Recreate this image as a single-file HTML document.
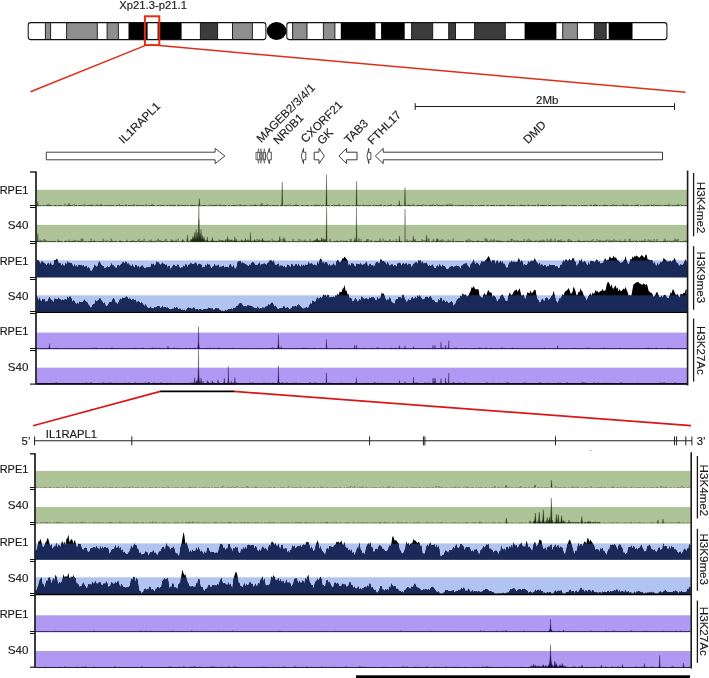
<!DOCTYPE html>
<html lang="en"><head><meta charset="utf-8"><title>Xp21.3-p21.1 chromatin tracks</title>
<style>
html,body{margin:0;padding:0;background:#fff}
body{width:709px;height:678px;overflow:hidden;font-family:"Liberation Sans",Arial,Helvetica,sans-serif}
svg{display:block}
svg text{font-family:"Liberation Sans",Arial,Helvetica,sans-serif;stroke:#1a1a1a;stroke-width:.14px}
</style></head><body>
<svg width="709" height="678" viewBox="0 0 709 678" font-family='Liberation Sans, Arial, Helvetica, sans-serif'>
<defs><clipPath id="cp"><rect x="28.2" y="22.6" width="237.7" height="17" rx="2.6" ry="2.6"/></clipPath><clipPath id="cq"><rect x="286.8" y="22.6" width="380.1" height="17" rx="2.6" ry="2.6"/></clipPath></defs>
<g clip-path="url(#cp)">
<rect x="45.4" y="22.6" width="5.2" height="17" fill="#8e8e8e"/>
<rect x="66.6" y="22.6" width="30.7" height="17" fill="#8e8e8e"/>
<rect x="107.1" y="22.6" width="11.3" height="17" fill="#8e8e8e"/>
<rect x="128.5" y="22.6" width="19.1" height="17" fill="#000"/>
<rect x="157.6" y="22.6" width="24" height="17" fill="#000"/>
<rect x="200.4" y="22.6" width="17.2" height="17" fill="#3c3c3c"/>
<rect x="232.5" y="22.6" width="19.9" height="17" fill="#8e8e8e"/>
</g><g clip-path="url(#cq)">
<rect x="292.6" y="22.6" width="14.4" height="17" fill="#8e8e8e"/>
<rect x="323.4" y="22.6" width="11.5" height="17" fill="#8e8e8e"/>
<rect x="340.8" y="22.6" width="34.7" height="17" fill="#000"/>
<rect x="381.1" y="22.6" width="23.6" height="17" fill="#000"/>
<rect x="411.6" y="22.6" width="21.1" height="17" fill="#3c3c3c"/>
<rect x="448.7" y="22.6" width="6.8" height="17" fill="#3c3c3c"/>
<rect x="474.6" y="22.6" width="30.7" height="17" fill="#3c3c3c"/>
<rect x="524.6" y="22.6" width="31.8" height="17" fill="#000"/>
<rect x="562.7" y="22.6" width="14.7" height="17" fill="#8e8e8e"/>
<rect x="594.4" y="22.6" width="11.8" height="17" fill="#3c3c3c"/>
<rect x="608.7" y="22.6" width="23.8" height="17" fill="#000"/>
</g>
<rect x="28.2" y="22.6" width="237.7" height="17" rx="2.6" ry="2.6" fill="none" stroke="#111" stroke-width="1.05"/>
<rect x="286.8" y="22.6" width="380.1" height="17" rx="2.6" ry="2.6" fill="none" stroke="#111" stroke-width="1.05"/>
<path d="M45.4 22.6V39.6M50.6 22.6V39.6" stroke="#111" stroke-width=".9" fill="none"/>
<path d="M66.6 22.6V39.6M97.3 22.6V39.6" stroke="#111" stroke-width=".9" fill="none"/>
<path d="M107.1 22.6V39.6M118.4 22.6V39.6" stroke="#111" stroke-width=".9" fill="none"/>
<path d="M200.4 22.6V39.6M217.6 22.6V39.6" stroke="#111" stroke-width=".9" fill="none"/>
<path d="M232.5 22.6V39.6M252.4 22.6V39.6" stroke="#111" stroke-width=".9" fill="none"/>
<path d="M292.6 22.6V39.6M307 22.6V39.6" stroke="#111" stroke-width=".9" fill="none"/>
<path d="M323.4 22.6V39.6M334.9 22.6V39.6" stroke="#111" stroke-width=".9" fill="none"/>
<path d="M411.6 22.6V39.6M432.7 22.6V39.6" stroke="#111" stroke-width=".9" fill="none"/>
<path d="M448.7 22.6V39.6M455.5 22.6V39.6" stroke="#111" stroke-width=".9" fill="none"/>
<path d="M474.6 22.6V39.6M505.3 22.6V39.6" stroke="#111" stroke-width=".9" fill="none"/>
<path d="M562.7 22.6V39.6M577.4 22.6V39.6" stroke="#111" stroke-width=".9" fill="none"/>
<path d="M594.4 22.6V39.6M606.2 22.6V39.6" stroke="#111" stroke-width=".9" fill="none"/>
<ellipse cx="276.6" cy="31" rx="9.9" ry="9" fill="#000"/>
<text transform="translate(119.3 8.6) scale(1.045 1)" font-size="10.8" fill="#1a1a1a">Xp21.3-p21.1</text>
<rect x="144.9" y="16.3" width="14.4" height="28.8" fill="none" stroke="#df2e18" stroke-width="2"/>
<path d="M145 45.6L30.5 91.8M159.5 45.6L685.5 92.3" stroke="#df2e18" stroke-width="1.5" fill="none"/>
<path d="M415.2 106.5H674.5M415.2 103.2V109.9M674.5 103.2V109.9" stroke="#1a1a1a" stroke-width="1" fill="none"/>
<text transform="translate(536 103.5) scale(1.09 1)" font-size="10.6" fill="#1a1a1a">2Mb</text>
<path d="M46.3 152.2H215.1V148.4L224.9 156L215.1 163.6V159.8H46.3Z" fill="#fff" stroke="#2a2a2a" stroke-width="0.9" stroke-linejoin="miter"/>
<rect x="256" y="152.3" width="9.4" height="7.5" fill="#fff" stroke="#333" stroke-width=".7"/>
<rect x="259.9" y="152.6" width="3.8" height="6.9" fill="#a8a8a8"/>
<path d="M258.4 148.6L259.6 156L258.4 163.4L257.2 156Z" fill="none" stroke="#333" stroke-width=".55"/>
<path d="M260.9 148.6L262.1 156L260.9 163.4L259.7 156Z" fill="none" stroke="#333" stroke-width=".55"/>
<path d="M264.3 148.6L265.5 156L264.3 163.4L263.1 156Z" fill="none" stroke="#333" stroke-width=".55"/>
<path d="M271.3 152.2H269.4V148.4L266.8 156L269.4 163.6V159.8H271.3Z" fill="#fff" stroke="#222" stroke-width="0.8" stroke-linejoin="miter"/>
<path d="M305.8 152.2H303.5V148.4L301.2 156L303.5 163.6V159.8H305.8Z" fill="#fff" stroke="#222" stroke-width="0.8" stroke-linejoin="miter"/>
<path d="M314.2 152.2H319V148.4L324.4 156L319 163.6V159.8H314.2Z" fill="#fff" stroke="#2a2a2a" stroke-width="0.9" stroke-linejoin="miter"/>
<path d="M357 152.2H346.5V148.4L338.9 156L346.5 163.6V159.8H357Z" fill="#fff" stroke="#222" stroke-width="0.9" stroke-linejoin="miter"/>
<path d="M370.9 152.6H368.8V148.4L367 156L368.8 163.6V159.4H370.9Z" fill="#fff" stroke="#222" stroke-width="0.8" stroke-linejoin="miter"/>
<path d="M662.5 152.2H383.2V148.4L375.4 156L383.2 163.6V159.8H662.5Z" fill="#fff" stroke="#222" stroke-width="0.9" stroke-linejoin="miter"/>
<text transform="translate(123.6 144.2) rotate(-45)" font-size="11.6" fill="#1a1a1a">IL1RAPL1</text>
<text transform="translate(261.2 143.2) rotate(-45)" font-size="11.6" fill="#1a1a1a">MAGEB2/3/4/1</text>
<text transform="translate(277.9 144.9) rotate(-45)" font-size="11.6" fill="#1a1a1a">NR0B1</text>
<text transform="translate(305.6 143.5) rotate(-45)" font-size="11.6" fill="#1a1a1a">CXORF21</text>
<text transform="translate(321.9 145.2) rotate(-45)" font-size="11.6" fill="#1a1a1a">GK</text>
<text transform="translate(348.9 144.2) rotate(-45)" font-size="11.6" fill="#1a1a1a">TAB3</text>
<text transform="translate(372.2 145.2) rotate(-45)" font-size="11.6" fill="#1a1a1a">FTHL17</text>
<text transform="translate(528.1 144.3) rotate(-45)" font-size="11.6" fill="#1a1a1a">DMD</text>
<rect x="36.6" y="189.8" width="650.4" height="16.6" fill="#afc399"/>
<path d="M36.6 205.5H687" stroke="#1f3016" stroke-width="0.8" stroke-dasharray="5 1 2 .8 7 1.2 3 .6" fill="none" opacity="0.85"/>
<path d="M43.1 205.5v-0.5M46.1 205.5v-0.3M47.1 205.5v-1.1M49.1 205.5v-1.8M53.1 205.5v-0.3M55.1 205.5v-0.3M56.1 205.5v-0.3M65.1 205.5v-1.8M69.1 205.5v-0.3M70.1 205.5v-0.3M74.1 205.5v-1.7M76.1 205.5v-0.3M80.1 205.5v-0.3M83.1 205.5v-0.3M84.1 205.5v-1.7M86.1 205.5v-0.3M87.1 205.5v-0.3M89.1 205.5v-0.6M91.1 205.5v-0.9M92.1 205.5v-0.7M93.1 205.5v-0.4M94.1 205.5v-0.3M97.1 205.5v-1.4M98.1 205.5v-0.4M101.1 205.5v-1.8M102.1 205.5v-0.3M104.1 205.5v-0.3M105.1 205.5v-0.3M107.1 205.5v-0.6M108.1 205.5v-0.4M113.1 205.5v-0.3M116.1 205.5v-0.3M119.1 205.5v-1.6M123.1 205.5v-0.3M125.1 205.5v-0.8M126.1 205.5v-1.2M128.1 205.5v-0.3M130.1 205.5v-0.3M134.1 205.5v-1.5M135.1 205.5v-0.3M136.1 205.5v-0.4M137.1 205.5v-0.3M138.1 205.5v-0.6M139.1 205.5v-0.4M145.1 205.5v-0.3M146.1 205.5v-1.5M149.1 205.5v-0.7M152.1 205.5v-1.8M153.1 205.5v-0.6M160.1 205.5v-0.8M168.1 205.5v-0.6M170.1 205.5v-0.7M174.1 205.5v-0.9M178.1 205.5v-1M179.1 205.5v-0.6M181.1 205.5v-0.8M185.1 205.5v-0.3M186.1 205.5v-0.8M187.1 205.5v-0.3M192.1 205.5v-0.8M193.1 205.5v-0.4M197.1 205.5v-0.6M198.1 205.5v-0.3M204.1 205.5v-0.3M206.1 205.5v-0.3M210.1 205.5v-1.2M213.1 205.5v-0.3M215.1 205.5v-0.8M217.1 205.5v-1.1M218.1 205.5v-0.3M220.1 205.5v-1.2M221.1 205.5v-0.3M222.1 205.5v-0.7M229.1 205.5v-0.5M230.1 205.5v-0.3M233.1 205.5v-0.3M234.1 205.5v-0.8M238.1 205.5v-1.1M240.1 205.5v-1.5M242.1 205.5v-0.4M245.1 205.5v-0.6M251.1 205.5v-0.9M255.1 205.5v-1.4M260.1 205.5v-1.5M262.1 205.5v-0.3M267.1 205.5v-1.1M268.1 205.5v-1.1M269.1 205.5v-0.4M271.1 205.5v-0.3M279.1 205.5v-0.3M281.1 205.5v-0.9M286.1 205.5v-0.4M289.1 205.5v-1.2M293.1 205.5v-0.5M296.1 205.5v-1.7M303.1 205.5v-0.5M307.1 205.5v-0.5M308.1 205.5v-0.4M312.1 205.5v-0.3M315.1 205.5v-1M316.1 205.5v-0.3M317.1 205.5v-0.8M318.1 205.5v-0.4M320.1 205.5v-0.9M321.1 205.5v-0.5M322.1 205.5v-0.3M325.1 205.5v-0.4M327.1 205.5v-0.3M334.1 205.5v-0.9M337.1 205.5v-0.3M339.1 205.5v-1.8M341.1 205.5v-0.3M343.1 205.5v-0.3M347.1 205.5v-0.4M349.1 205.5v-0.3M353.1 205.5v-0.5M357.1 205.5v-0.3M358.1 205.5v-0.3M362.1 205.5v-0.3M363.1 205.5v-1.2M366.1 205.5v-0.3M370.1 205.5v-0.5M374.1 205.5v-0.8M376.1 205.5v-0.4M379.1 205.5v-0.3M381.1 205.5v-1.4M391.1 205.5v-1.5M403.1 205.5v-0.4M405.1 205.5v-0.4M408.1 205.5v-1.6M410.1 205.5v-0.7M413.1 205.5v-1.8M418.1 205.5v-0.7M420.1 205.5v-0.4M421.1 205.5v-0.3M422.1 205.5v-0.3M423.1 205.5v-1.4M431.1 205.5v-0.6M433.1 205.5v-1.5M434.1 205.5v-0.5M435.1 205.5v-0.5M437.1 205.5v-1.6M441.1 205.5v-0.3M444.1 205.5v-0.9M445.1 205.5v-0.3M446.1 205.5v-0.3M447.1 205.5v-1M448.1 205.5v-1.4M450.1 205.5v-1.8M452.1 205.5v-1.4M456.1 205.5v-0.5M463.1 205.5v-0.7M465.1 205.5v-0.3M467.1 205.5v-0.4M470.1 205.5v-0.6M477.1 205.5v-0.3M481.1 205.5v-0.3M487.1 205.5v-0.3M491.1 205.5v-0.3M492.1 205.5v-0.4M494.1 205.5v-0.5M495.1 205.5v-0.3M499.1 205.5v-0.5M500.1 205.5v-0.4M503.1 205.5v-0.3M507.1 205.5v-0.4M508.1 205.5v-1.1M509.1 205.5v-0.7M511.1 205.5v-0.6M515.1 205.5v-0.3M517.1 205.5v-0.3M521.1 205.5v-1M522.1 205.5v-0.3M524.1 205.5v-0.3M527.1 205.5v-0.3M528.1 205.5v-0.9M529.1 205.5v-0.3M537.1 205.5v-0.3M538.1 205.5v-1.6M540.1 205.5v-0.4M541.1 205.5v-0.4M542.1 205.5v-0.4M543.1 205.5v-0.6M548.1 205.5v-1M550.1 205.5v-0.3M557.1 205.5v-0.6M559.1 205.5v-0.3M562.1 205.5v-0.7M563.1 205.5v-0.9M565.1 205.5v-0.3M569.1 205.5v-0.4M591.1 205.5v-0.9M593.1 205.5v-0.3M594.1 205.5v-0.4M595.1 205.5v-1.7M596.1 205.5v-0.3M597.1 205.5v-0.7M599.1 205.5v-0.3M603.1 205.5v-0.3M604.1 205.5v-0.3M605.1 205.5v-0.9M607.1 205.5v-0.3M608.1 205.5v-0.3M610.1 205.5v-0.6M613.1 205.5v-1.4M615.1 205.5v-0.6M618.1 205.5v-0.3M621.1 205.5v-0.5M623.1 205.5v-1.8M625.1 205.5v-0.3M627.1 205.5v-1.1M630.1 205.5v-0.3M631.1 205.5v-0.3M636.1 205.5v-0.5M637.1 205.5v-1M638.1 205.5v-1.2M641.1 205.5v-0.3M643.1 205.5v-0.5M648.1 205.5v-1.1M651.1 205.5v-1.2M652.1 205.5v-0.5M654.1 205.5v-1.2M655.1 205.5v-0.3M656.1 205.5v-0.3M659.1 205.5v-0.8M660.1 205.5v-0.4M665.1 205.5v-0.4M667.1 205.5v-0.6M669.1 205.5v-1.8M671.1 205.5v-0.7M672.1 205.5v-0.4M674.1 205.5v-0.4M675.1 205.5v-0.8M676.1 205.5v-0.3M678.1 205.5v-1.6M681.1 205.5v-1.2M682.1 205.5v-0.3M683.1 205.5v-0.8M685.1 205.5v-0.4" stroke="#1f3016" stroke-width=".7" fill="none" opacity=".9"/>
<path d="M198.8 205.5L199.3 198.5L199.8 205.5ZM281.7 205.5L282.2 182L282.7 205.5ZM326 205.5L326.5 174.5L327 205.5ZM356.1 205.5L356.6 181L357.1 205.5ZM404.5 205.5L405 187.5L405.5 205.5ZM398.8 205.5L399.3 200.5L399.8 205.5ZM37.4 205.5L37.8 201.5L38.2 205.5ZM68.5 205.5L69 203L69.5 205.5ZM261.5 205.5L262 203L262.5 205.5Z" fill="#1f3016" stroke="#1f3016" stroke-width=".3"/>
<rect x="36.6" y="224.9" width="650.4" height="17.4" fill="#afc399"/>
<path d="M36.6 241.5H687" stroke="#1f3016" stroke-width="0.8" stroke-dasharray="6 .8 3 .6 9 1" fill="none" opacity="0.9"/>
<path d="M37.1 241.4v-1.1M38.1 241.4v-0.3M39.1 241.4v-0.5M40.1 241.4v-1.8M41.1 241.4v-0.9M42.1 241.4v-1.1M43.1 241.4v-0.5M44.1 241.4v-2.4M45.1 241.4v-1.9M46.1 241.4v-1.2M47.1 241.4v-0.5M49.1 241.4v-0.3M51.1 241.4v-0.3M54.1 241.4v-0.5M55.1 241.4v-0.4M56.1 241.4v-0.3M57.1 241.4v-0.3M58.1 241.4v-1.9M59.1 241.4v-0.5M60.1 241.4v-0.6M61.1 241.4v-0.3M65.1 241.4v-0.4M66.1 241.4v-1.2M67.1 241.4v-0.3M68.1 241.4v-0.4M69.1 241.4v-1.8M70.1 241.4v-0.3M72.1 241.4v-0.7M73.1 241.4v-0.5M74.1 241.4v-1.6M75.1 241.4v-0.8M76.1 241.4v-1.3M77.1 241.4v-0.4M78.1 241.4v-1M79.1 241.4v-0.6M80.1 241.4v-0.4M81.1 241.4v-2.8M82.1 241.4v-2.8M83.1 241.4v-2.6M84.1 241.4v-0.3M87.1 241.4v-0.4M89.1 241.4v-0.3M90.1 241.4v-0.3M91.1 241.4v-3M93.1 241.4v-0.3M94.1 241.4v-1.7M96.1 241.4v-0.3M97.1 241.4v-0.6M98.1 241.4v-0.4M101.1 241.4v-0.4M103.1 241.4v-2.7M104.1 241.4v-1.3M106.1 241.4v-0.4M107.1 241.4v-1.2M108.1 241.4v-0.3M110.1 241.4v-0.3M111.1 241.4v-3M112.1 241.4v-1M116.1 241.4v-0.9M119.1 241.4v-0.4M120.1 241.4v-1.4M121.1 241.4v-0.3M127.1 241.4v-1.7M128.1 241.4v-0.3M129.1 241.4v-0.4M131.1 241.4v-0.8M132.1 241.4v-0.3M133.1 241.4v-1.3M134.1 241.4v-0.3M135.1 241.4v-0.4M136.1 241.4v-0.3M137.1 241.4v-0.4M138.1 241.4v-1.6M139.1 241.4v-2.6M140.1 241.4v-0.3M141.1 241.4v-0.5M142.1 241.4v-1.2M143.1 241.4v-0.3M144.1 241.4v-2.7M145.1 241.4v-0.4M146.1 241.4v-0.3M147.1 241.4v-0.3M149.1 241.4v-1.3M150.1 241.4v-0.6M151.1 241.4v-2M152.1 241.4v-0.6M155.1 241.4v-0.7M157.1 241.4v-1.2M158.1 241.4v-2.9M159.1 241.4v-1.2M160.1 241.4v-1.4M161.1 241.4v-0.7M162.1 241.4v-0.4M163.1 241.4v-0.3M164.1 241.4v-0.3M165.1 241.4v-1.8M166.1 241.4v-2.6M167.1 241.4v-0.5M170.1 241.4v-0.3M171.1 241.4v-2M172.1 241.4v-1.7M173.1 241.4v-1M174.1 241.4v-0.5M175.1 241.4v-0.5M176.1 241.4v-1.8M177.1 241.4v-0.3M178.1 241.4v-2.9M179.1 241.4v-0.3M183.1 241.4v-1.4M184.1 241.4v-0.3M187.1 241.4v-2.2M188.1 241.4v-0.4M189.1 241.4v-0.3M190.1 241.4v-1.3M191.1 241.4v-0.3M192.1 241.4v-0.4M194.1 241.4v-0.3M195.1 241.4v-0.7M196.1 241.4v-0.7M197.1 241.4v-1.8M198.1 241.4v-1M199.1 241.4v-1M200.1 241.4v-0.5M201.1 241.4v-1.3M202.1 241.4v-2.6M203.1 241.4v-2.1M204.1 241.4v-2.8M205.1 241.4v-0.5M206.1 241.4v-0.9M209.1 241.4v-0.3M210.1 241.4v-0.3M211.1 241.4v-0.3M212.1 241.4v-0.3M213.1 241.4v-1M218.1 241.4v-0.3M220.1 241.4v-0.3M222.1 241.4v-0.8M223.1 241.4v-0.3M224.1 241.4v-0.9M229.1 241.4v-0.4M231.1 241.4v-1.2M232.1 241.4v-0.3M233.1 241.4v-1.4M236.1 241.4v-0.5M239.1 241.4v-0.3M240.1 241.4v-0.7M241.1 241.4v-0.3M242.1 241.4v-1M243.1 241.4v-0.8M246.1 241.4v-0.5M247.1 241.4v-1.4M248.1 241.4v-0.3M249.1 241.4v-0.9M250.1 241.4v-0.5M251.1 241.4v-0.4M253.1 241.4v-0.7M254.1 241.4v-0.3M255.1 241.4v-0.3M256.1 241.4v-0.4M257.1 241.4v-2.7M258.1 241.4v-0.4M259.1 241.4v-0.5M260.1 241.4v-1.1M261.1 241.4v-1.2M262.1 241.4v-0.3M265.1 241.4v-0.3M266.1 241.4v-0.4M268.1 241.4v-0.3M269.1 241.4v-1M270.1 241.4v-0.6M272.1 241.4v-2.7M273.1 241.4v-0.6M274.1 241.4v-1.3M276.1 241.4v-0.7M278.1 241.4v-1.1M279.1 241.4v-1.3M280.1 241.4v-0.4M281.1 241.4v-2.3M283.1 241.4v-2.9M285.1 241.4v-2M286.1 241.4v-0.4M287.1 241.4v-0.5M288.1 241.4v-0.3M289.1 241.4v-0.4M290.1 241.4v-0.3M292.1 241.4v-0.6M293.1 241.4v-2.6M294.1 241.4v-0.3M298.1 241.4v-0.4M299.1 241.4v-2.5M301.1 241.4v-1.7M302.1 241.4v-0.7M304.1 241.4v-1M305.1 241.4v-2M307.1 241.4v-0.5M308.1 241.4v-0.6M309.1 241.4v-0.5M310.1 241.4v-2.5M311.1 241.4v-0.8M314.1 241.4v-0.8M316.1 241.4v-2.4M317.1 241.4v-1.7M318.1 241.4v-1M320.1 241.4v-0.5M323.1 241.4v-1.6M324.1 241.4v-2.2M325.1 241.4v-0.4M326.1 241.4v-0.3M327.1 241.4v-0.3M329.1 241.4v-0.9M330.1 241.4v-2.9M331.1 241.4v-0.3M335.1 241.4v-0.5M336.1 241.4v-0.4M337.1 241.4v-1.3M341.1 241.4v-1.5M342.1 241.4v-0.3M343.1 241.4v-1M344.1 241.4v-0.3M345.1 241.4v-0.5M346.1 241.4v-0.8M347.1 241.4v-0.7M350.1 241.4v-2.2M351.1 241.4v-2.7M352.1 241.4v-0.4M354.1 241.4v-1.3M355.1 241.4v-0.3M357.1 241.4v-0.3M358.1 241.4v-1.9M359.1 241.4v-3.1M361.1 241.4v-2.5M362.1 241.4v-0.3M365.1 241.4v-0.6M366.1 241.4v-0.3M367.1 241.4v-0.3M368.1 241.4v-2.4M370.1 241.4v-1.2M371.1 241.4v-1.6M375.1 241.4v-0.9M376.1 241.4v-0.6M377.1 241.4v-0.3M378.1 241.4v-0.5M379.1 241.4v-1M380.1 241.4v-3.1M381.1 241.4v-0.7M382.1 241.4v-0.5M383.1 241.4v-2.9M385.1 241.4v-1.1M386.1 241.4v-0.8M387.1 241.4v-0.4M388.1 241.4v-0.3M389.1 241.4v-1.4M390.1 241.4v-2.3M391.1 241.4v-0.3M393.1 241.4v-1.3M394.1 241.4v-0.3M396.1 241.4v-2.4M397.1 241.4v-0.4M398.1 241.4v-0.3M400.1 241.4v-0.3M401.1 241.4v-0.4M404.1 241.4v-0.5M405.1 241.4v-1.9M406.1 241.4v-0.3M407.1 241.4v-2.1M408.1 241.4v-0.3M410.1 241.4v-1.4M411.1 241.4v-0.4M412.1 241.4v-0.5M415.1 241.4v-0.3M416.1 241.4v-0.4M419.1 241.4v-0.4M421.1 241.4v-0.3M422.1 241.4v-2.3M423.1 241.4v-1.4M424.1 241.4v-1.1M425.1 241.4v-0.9M428.1 241.4v-3M429.1 241.4v-2.7M432.1 241.4v-0.4M433.1 241.4v-2.3M434.1 241.4v-1.6M435.1 241.4v-0.3M436.1 241.4v-0.3M437.1 241.4v-2.6M438.1 241.4v-2.1M440.1 241.4v-1.3M441.1 241.4v-1.2M442.1 241.4v-2.3M443.1 241.4v-0.6M444.1 241.4v-1.5M446.1 241.4v-0.4M448.1 241.4v-2.2M449.1 241.4v-0.5M450.1 241.4v-1.3M451.1 241.4v-0.3M452.1 241.4v-0.3M453.1 241.4v-3.1M454.1 241.4v-0.6M455.1 241.4v-0.4M456.1 241.4v-0.3M457.1 241.4v-0.4M458.1 241.4v-0.3M464.1 241.4v-0.3M466.1 241.4v-1.4M467.1 241.4v-1.7M468.1 241.4v-0.3M469.1 241.4v-2.9M470.1 241.4v-0.3M471.1 241.4v-1.5M472.1 241.4v-0.6M473.1 241.4v-0.3M474.1 241.4v-0.5M475.1 241.4v-0.3M476.1 241.4v-0.3M477.1 241.4v-0.6M478.1 241.4v-1.4M482.1 241.4v-0.5M483.1 241.4v-0.3M485.1 241.4v-3M486.1 241.4v-3M487.1 241.4v-2.3M490.1 241.4v-1.1M491.1 241.4v-2.1M492.1 241.4v-0.8M493.1 241.4v-1M494.1 241.4v-2.7M496.1 241.4v-1.4M497.1 241.4v-0.6M498.1 241.4v-1.4M499.1 241.4v-0.3M500.1 241.4v-1M501.1 241.4v-0.8M503.1 241.4v-0.3M504.1 241.4v-0.5M505.1 241.4v-0.3M506.1 241.4v-0.4M508.1 241.4v-1.2M511.1 241.4v-2.6M512.1 241.4v-2.7M514.1 241.4v-1.3M515.1 241.4v-0.6M516.1 241.4v-0.6M517.1 241.4v-1.3M518.1 241.4v-1M521.1 241.4v-0.8M522.1 241.4v-0.3M524.1 241.4v-2.4M525.1 241.4v-0.5M526.1 241.4v-0.3M527.1 241.4v-1.8M528.1 241.4v-0.3M529.1 241.4v-2.7M530.1 241.4v-1.2M531.1 241.4v-0.4M532.1 241.4v-1.2M533.1 241.4v-0.3M535.1 241.4v-0.6M536.1 241.4v-1.6M539.1 241.4v-0.8M540.1 241.4v-0.8M541.1 241.4v-1.5M542.1 241.4v-0.3M543.1 241.4v-1.9M544.1 241.4v-1.2M545.1 241.4v-0.3M546.1 241.4v-0.6M547.1 241.4v-2.7M548.1 241.4v-0.3M549.1 241.4v-0.7M550.1 241.4v-1.8M551.1 241.4v-2.9M553.1 241.4v-1.1M554.1 241.4v-0.3M555.1 241.4v-2.8M557.1 241.4v-0.9M558.1 241.4v-1.2M559.1 241.4v-1.5M560.1 241.4v-0.9M561.1 241.4v-2M562.1 241.4v-0.3M564.1 241.4v-0.8M567.1 241.4v-0.6M568.1 241.4v-2M569.1 241.4v-2.5M571.1 241.4v-1.6M572.1 241.4v-0.3M573.1 241.4v-0.3M575.1 241.4v-0.4M578.1 241.4v-1.2M579.1 241.4v-1.7M582.1 241.4v-0.3M584.1 241.4v-0.9M586.1 241.4v-0.6M587.1 241.4v-1.1M588.1 241.4v-0.5M591.1 241.4v-1.2M593.1 241.4v-2.3M594.1 241.4v-0.4M596.1 241.4v-0.3M597.1 241.4v-2.3M599.1 241.4v-1.5M600.1 241.4v-1M601.1 241.4v-0.8M603.1 241.4v-1M604.1 241.4v-0.6M606.1 241.4v-1.5M607.1 241.4v-1.8M609.1 241.4v-1.9M611.1 241.4v-1.4M612.1 241.4v-0.8M613.1 241.4v-0.6M614.1 241.4v-2.3M615.1 241.4v-1M616.1 241.4v-0.6M617.1 241.4v-1.1M618.1 241.4v-0.4M619.1 241.4v-0.3M620.1 241.4v-1.7M621.1 241.4v-0.3M623.1 241.4v-0.4M624.1 241.4v-0.8M625.1 241.4v-2.4M627.1 241.4v-0.5M628.1 241.4v-0.3M629.1 241.4v-2.3M630.1 241.4v-2.9M631.1 241.4v-0.3M633.1 241.4v-0.4M634.1 241.4v-1M635.1 241.4v-0.3M636.1 241.4v-1.1M637.1 241.4v-0.3M639.1 241.4v-0.8M641.1 241.4v-0.6M642.1 241.4v-1M643.1 241.4v-0.3M644.1 241.4v-0.8M645.1 241.4v-2.6M648.1 241.4v-1.9M649.1 241.4v-1.7M651.1 241.4v-1.6M653.1 241.4v-0.4M654.1 241.4v-2.4M655.1 241.4v-0.3M656.1 241.4v-0.7M657.1 241.4v-2.4M658.1 241.4v-0.3M664.1 241.4v-1.6M665.1 241.4v-3.1M666.1 241.4v-0.5M667.1 241.4v-0.7M668.1 241.4v-0.7M669.1 241.4v-1.1M670.1 241.4v-0.4M671.1 241.4v-0.6M672.1 241.4v-0.6M674.1 241.4v-1.4M675.1 241.4v-3M676.1 241.4v-1.8M677.1 241.4v-1.8M678.1 241.4v-2.6M682.1 241.4v-0.4M685.1 241.4v-0.8M686.1 241.4v-0.8" stroke="#1f3016" stroke-width=".7" fill="none" opacity=".9"/>
<path d="M198.5 241.4L198.9 205.9L199.3 241.4ZM198.2 241.4L198.9 219.4L199.6 241.4ZM195.3 241.4L196.1 229.4L196.9 241.4ZM200.2 241.4L201 229.4L201.8 241.4ZM193.9 241.4L194.7 232.4L195.5 241.4ZM196.8 241.4L197.5 232.4L198.2 241.4ZM199.3 241.4L200 233.4L200.7 241.4ZM201.7 241.4L202.5 235.4L203.3 241.4ZM192.1 241.4L192.8 236.4L193.5 241.4ZM187.1 241.4L187.6 234.9L188.1 241.4ZM182.2 241.4L182.7 238.9L183.2 241.4ZM206.9 241.4L207.4 236.9L207.9 241.4ZM211.8 241.4L212.3 237.4L212.8 241.4ZM227 241.4L227.5 236.4L228 241.4ZM225.5 241.4L226 238.9L226.5 241.4ZM228.5 241.4L229 238.9L229.5 241.4ZM234.4 241.4L234.9 236.9L235.4 241.4ZM236 241.4L236.5 238.9L237 241.4ZM250 241.4L250.4 232.4L250.8 241.4ZM245 241.4L245.5 238.4L246 241.4ZM261.9 241.4L262.4 237.9L262.9 241.4ZM326.1 241.4L326.6 206.9L327.1 241.4ZM356.1 241.4L356.5 207.4L356.9 241.4ZM398.9 241.4L399.4 235.9L399.9 241.4ZM426 241.4L426.5 234.9L427 241.4ZM412.8 241.4L413.3 235.9L413.8 241.4ZM414.5 241.4L415 238.9L415.5 241.4ZM279.3 241.4L279.8 236.4L280.3 241.4ZM354.5 241.4L355 237.9L355.5 241.4ZM366.5 241.4L367 238.9L367.5 241.4ZM37.4 241.4L37.8 233.4L38.2 241.4ZM283.5 241.4L284 237.4L284.5 241.4ZM436.5 241.4L437 238.4L437.5 241.4ZM190.5 241.4L191.1 239.1L191.7 241.4ZM191.5 241.4L192.1 238.8L192.7 241.4ZM192.6 241.4L193.2 240.4L193.8 241.4ZM193.1 241.4L193.7 237.2L194.3 241.4ZM194.2 241.4L194.8 240.2L195.4 241.4ZM195.5 241.4L196.1 239.4L196.7 241.4ZM196.3 241.4L196.9 239.4L197.5 241.4ZM197.1 241.4L197.7 240.3L198.3 241.4ZM198 241.4L198.6 237L199.2 241.4ZM198.8 241.4L199.4 237.9L200 241.4ZM199.8 241.4L200.4 240.4L201 241.4ZM200.8 241.4L201.4 238.8L202 241.4ZM201.4 241.4L202 240.4L202.6 241.4ZM202.6 241.4L203.2 239.4L203.8 241.4ZM203.4 241.4L204 236.9L204.6 241.4ZM312.5 241.4L313.1 240.6L313.7 241.4ZM313.8 241.4L314.4 240.5L315 241.4ZM314.8 241.4L315.4 240L316 241.4ZM316.6 241.4L317.2 238.2L317.8 241.4ZM317.7 241.4L318.3 240.4L318.9 241.4ZM318.7 241.4L319.3 240.3L319.9 241.4ZM319.7 241.4L320.3 240.6L320.9 241.4ZM320.9 241.4L321.5 237.4L322.1 241.4ZM322.5 241.4L323.1 238.2L323.7 241.4ZM323.7 241.4L324.3 240.5L324.9 241.4ZM324.6 241.4L325.2 239.1L325.8 241.4ZM204.2 241.4L204.8 240.8L205.4 241.4ZM205.6 241.4L206.2 239.7L206.8 241.4ZM207.1 241.4L207.7 240.6L208.3 241.4ZM209.2 241.4L209.8 241.1L210.4 241.4ZM210.6 241.4L211.2 240.4L211.8 241.4ZM211.9 241.4L212.5 240.8L213.1 241.4ZM213.9 241.4L214.5 240.7L215.1 241.4ZM215.5 241.4L216.1 241.1L216.7 241.4ZM216.8 241.4L217.4 241.1L218 241.4ZM218.6 241.4L219.2 239.5L219.8 241.4ZM220.3 241.4L220.9 240L221.5 241.4ZM221.7 241.4L222.3 240L222.9 241.4ZM223.2 241.4L223.8 240.9L224.4 241.4ZM225.1 241.4L225.7 240.1L226.3 241.4ZM226.6 241.4L227.2 241.1L227.8 241.4ZM228.1 241.4L228.7 241L229.3 241.4ZM229.7 241.4L230.3 239.9L230.9 241.4ZM231.2 241.4L231.8 239.6L232.4 241.4ZM233.2 241.4L233.8 241.1L234.4 241.4ZM234.5 241.4L235.1 240.6L235.7 241.4ZM235.9 241.4L236.5 240.8L237.1 241.4ZM238 241.4L238.6 241.1L239.2 241.4ZM239.5 241.4L240.1 241.1L240.7 241.4ZM241 241.4L241.6 239.6L242.2 241.4ZM242.4 241.4L243 241.1L243.6 241.4ZM244 241.4L244.6 240.5L245.2 241.4ZM245.5 241.4L246.1 241.1L246.7 241.4ZM247.4 241.4L248 239.5L248.6 241.4ZM249 241.4L249.6 240.8L250.2 241.4ZM250.7 241.4L251.3 241.1L251.9 241.4ZM252.2 241.4L252.8 241L253.4 241.4ZM253.9 241.4L254.5 239.4L255.1 241.4ZM255.1 241.4L255.7 240.5L256.3 241.4ZM257.1 241.4L257.7 241.1L258.3 241.4ZM258.5 241.4L259.1 239.2L259.7 241.4ZM260.5 241.4L261.1 241.1L261.7 241.4ZM261.9 241.4L262.5 239.4L263.1 241.4ZM263.2 241.4L263.8 240.4L264.4 241.4ZM264.7 241.4L265.3 240.8L265.9 241.4ZM266.7 241.4L267.3 240.4L267.9 241.4ZM268.4 241.4L269 241.1L269.6 241.4Z" fill="#1f3016" stroke="#1f3016" stroke-width=".3"/>
<path d="M404.5 241.4L405 209L405.6 241.4Z" fill="#777" stroke="#777" stroke-width=".5"/>
<rect x="36.6" y="260.4" width="650.4" height="16.8" fill="#b1c3f1"/>
<clipPath id="bc1"><rect x="36.6" y="260.4" width="650.4" height="17.8"/></clipPath>
<defs><path id="ap1" d="M36.6 277.2L36.6 262.3L37.6 259.6L38.6 260.6L39.6 262.2L40.6 264.2L41.6 261.6L42.6 261.6L43.6 263L44.6 263.1L45.6 264.4L46.6 265.5L47.6 263.7L48.6 262.7L49.6 265.5L50.6 262.3L51.6 265.3L52.6 264.9L53.6 265.2L54.6 259.6L55.6 260.2L56.6 258.7L57.6 259.5L58.6 263.7L59.6 263.2L60.6 263.4L61.6 266.2L62.6 263.5L63.6 266.1L64.6 266.3L65.6 262.4L66.6 265L67.6 260.9L68.6 263.2L69.6 262.6L70.6 263.6L71.6 263.1L72.6 265.4L73.6 266.9L74.6 264L75.6 267.2L76.6 265L77.6 267.7L78.6 264.7L79.6 265.1L80.6 265.6L81.6 265.4L82.6 266L83.6 265.2L84.6 267.6L85.6 266.5L86.6 265.8L87.6 269L88.6 267L89.6 268.5L90.6 271.4L91.6 271.2L92.6 269.4L93.6 268.1L94.6 264.4L95.6 266.2L96.6 267.1L97.6 266.2L98.6 262.9L99.6 261.1L100.6 264.3L101.6 265.2L102.6 265.9L103.6 266.1L104.6 269.1L105.6 267.9L106.6 267.4L107.6 266.3L108.6 267.5L109.6 267.1L110.6 266L111.6 263L112.6 266L113.6 265.2L114.6 266.8L115.6 267.9L116.6 268.2L117.6 264.9L118.6 264.9L119.6 266.5L120.6 264.7L121.6 264.2L122.6 262.6L123.6 261.7L124.6 264L125.6 261.6L126.6 262.2L127.6 264.4L128.6 263.3L129.6 265.2L130.6 265.8L131.6 266.5L132.6 263.9L133.6 267.2L134.6 267.7L135.6 264.8L136.6 265.5L137.6 267.3L138.6 265.9L139.6 268.3L140.6 266.7L141.6 265.7L142.6 265.6L143.6 267.4L144.6 268.6L145.6 268.4L146.6 267.3L147.6 267.4L148.6 267.3L149.6 267.4L150.6 267.4L151.6 263.6L152.6 265L153.6 263.5L154.6 266.3L155.6 265L156.6 261.5L157.6 262.2L158.6 262.4L159.6 264.3L160.6 265L161.6 263.9L162.6 262.2L163.6 264.4L164.6 263.9L165.6 265.8L166.6 264.3L167.6 268.3L168.6 266.1L169.6 265.8L170.6 270.2L171.6 267.7L172.6 266.6L173.6 264.8L174.6 265L175.6 266.7L176.6 266.5L177.6 264.6L178.6 265L179.6 268L180.6 267.9L181.6 267.6L182.6 267.7L183.6 265.6L184.6 267L185.6 264L186.6 265.1L187.6 267.5L188.6 264.7L189.6 264.7L190.6 262.9L191.6 263.8L192.6 264.3L193.6 264.4L194.6 263.6L195.6 262.5L196.6 263.7L197.6 266.6L198.6 264L199.6 263.7L200.6 264.6L201.6 265L202.6 268.7L203.6 266.6L204.6 267.9L205.6 264.4L206.6 266.5L207.6 263.6L208.6 265.3L209.6 264.2L210.6 266.9L211.6 268.6L212.6 266.7L213.6 266.7L214.6 263.7L215.6 266.3L216.6 265.7L217.6 265.8L218.6 264.4L219.6 268.2L220.6 266.4L221.6 266.9L222.6 266.2L223.6 265.4L224.6 268.2L225.6 266.8L226.6 267.3L227.6 266.8L228.6 268.5L229.6 265L230.6 263.9L231.6 266.9L232.6 267.4L233.6 265L234.6 269L235.6 268.8L236.6 267.5L237.6 262.6L238.6 261.3L239.6 261.5L240.6 260.8L241.6 264.6L242.6 262.1L243.6 263.8L244.6 263.6L245.6 264.5L246.6 264.7L247.6 265.8L248.6 266.6L249.6 264.6L250.6 265.2L251.6 262.9L252.6 262.1L253.6 262.4L254.6 264.1L255.6 265.5L256.6 265.2L257.6 264.9L258.6 264.1L259.6 262.3L260.6 266.3L261.6 264.2L262.6 264.5L263.6 263.8L264.6 263.5L265.6 264.4L266.6 265.1L267.6 263.3L268.6 262.6L269.6 260.5L270.6 260.6L271.6 260.4L272.6 262.4L273.6 260.1L274.6 264.4L275.6 265L276.6 265.3L277.6 264.2L278.6 263.6L279.6 267.5L280.6 265.6L281.6 265.7L282.6 265.7L283.6 267.2L284.6 265.8L285.6 268.2L286.6 267.2L287.6 264.4L288.6 265.2L289.6 266.3L290.6 267.7L291.6 263.8L292.6 264.7L293.6 266.7L294.6 265.9L295.6 264.3L296.6 264.3L297.6 266.4L298.6 263.5L299.6 266.5L300.6 266.9L301.6 264.3L302.6 267.1L303.6 264.5L304.6 266.4L305.6 264.4L306.6 265.6L307.6 264.9L308.6 262.1L309.6 264.1L310.6 264L311.6 262.9L312.6 264.6L313.6 265.4L314.6 264.6L315.6 265.4L316.6 266L317.6 261.5L318.6 265.1L319.6 260.2L320.6 258.6L321.6 259.5L322.6 263.7L323.6 261.6L324.6 264.5L325.6 262L326.6 262L327.6 264.6L328.6 266.1L329.6 263.9L330.6 266.2L331.6 265.4L332.6 265L333.6 263.2L334.6 265.8L335.6 266.1L336.6 261.5L337.6 259.8L338.6 260.7L339.6 263.1L340.6 262.2L341.6 260.5L342.6 258.1L343.6 258.4L344.6 256.5L345.6 257.9L346.6 259.1L347.6 261.1L348.6 266.4L349.6 264L350.6 266.5L351.6 262.9L352.6 263.8L353.6 264L354.6 266.6L355.6 267.1L356.6 263.5L357.6 264.4L358.6 264.2L359.6 264.7L360.6 263L361.6 265L362.6 265.1L363.6 264.5L364.6 264.5L365.6 262.9L366.6 261.8L367.6 266L368.6 266.2L369.6 264.3L370.6 263.8L371.6 265.9L372.6 265.3L373.6 266.1L374.6 266L375.6 263.6L376.6 262.3L377.6 261.8L378.6 263.7L379.6 263.5L380.6 258.4L381.6 259.9L382.6 261.6L383.6 261.2L384.6 262L385.6 263.1L386.6 265.3L387.6 261.7L388.6 264.8L389.6 265.9L390.6 264.9L391.6 264.5L392.6 264.5L393.6 267L394.6 265L395.6 265.7L396.6 266.9L397.6 263.6L398.6 263.5L399.6 262.8L400.6 263.8L401.6 266.1L402.6 263.7L403.6 263.2L404.6 265L405.6 263.5L406.6 263.3L407.6 266L408.6 263.7L409.6 263.9L410.6 264.6L411.6 267.8L412.6 265.8L413.6 264.1L414.6 263.6L415.6 262.3L416.6 262.3L417.6 264.2L418.6 259.7L419.6 261.3L420.6 259.8L421.6 264.2L422.6 261.2L423.6 264.3L424.6 263.3L425.6 263.5L426.6 262.8L427.6 265.2L428.6 266.5L429.6 265.2L430.6 266.6L431.6 265.4L432.6 264.6L433.6 266.9L434.6 268.3L435.6 268.4L436.6 266.4L437.6 265.3L438.6 267.4L439.6 264.1L440.6 266.2L441.6 267.3L442.6 264.4L443.6 266.7L444.6 265.9L445.6 267.8L446.6 269.6L447.6 269.4L448.6 268.8L449.6 267.6L450.6 266.7L451.6 266.3L452.6 266.3L453.6 267.6L454.6 266.6L455.6 266.5L456.6 265.6L457.6 266.3L458.6 266L459.6 267.2L460.6 269.3L461.6 265.5L462.6 265.8L463.6 264.2L464.6 263.8L465.6 263.8L466.6 263L467.6 266.2L468.6 266.5L469.6 268.4L470.6 264.4L471.6 263.6L472.6 262.5L473.6 259.1L474.6 263.4L475.6 264.2L476.6 262.6L477.6 263.3L478.6 264.5L479.6 266L480.6 263.9L481.6 261L482.6 262.1L483.6 261.8L484.6 261.7L485.6 259.9L486.6 259.2L487.6 257.5L488.6 255.9L489.6 257.8L490.6 261.1L491.6 262.3L492.6 260.1L493.6 260.6L494.6 260.6L495.6 264.5L496.6 260.9L497.6 260.3L498.6 264.1L499.6 262.6L500.6 260.6L501.6 263.8L502.6 261.1L503.6 264.7L504.6 263.6L505.6 266.7L506.6 268.2L507.6 267.8L508.6 264.9L509.6 262.2L510.6 263.1L511.6 260.6L512.6 262.8L513.6 261.4L514.6 262.1L515.6 262.3L516.6 261.9L517.6 261.8L518.6 257.7L519.6 259.8L520.6 262.7L521.6 260L522.6 262.3L523.6 266.4L524.6 264.1L525.6 265.4L526.6 265.2L527.6 264.2L528.6 261.1L529.6 263.2L530.6 261.2L531.6 260.6L532.6 261.5L533.6 261L534.6 258.1L535.6 260.1L536.6 262.4L537.6 263.1L538.6 264.9L539.6 262.6L540.6 266.6L541.6 264.1L542.6 265.3L543.6 266.5L544.6 265.1L545.6 265.4L546.6 267.7L547.6 265.8L548.6 267.1L549.6 264.2L550.6 265.8L551.6 265.2L552.6 265.1L553.6 265.3L554.6 265.2L555.6 266.7L556.6 266.2L557.6 266.8L558.6 268.7L559.6 267.9L560.6 264.7L561.6 265.3L562.6 262.5L563.6 259.9L564.6 262.5L565.6 259.2L566.6 259.6L567.6 261.6L568.6 260.5L569.6 258.4L570.6 261L571.6 260.2L572.6 258L573.6 258.1L574.6 261.3L575.6 262.2L576.6 266.9L577.6 264.8L578.6 263.8L579.6 259.7L580.6 261.7L581.6 258.3L582.6 263.4L583.6 261.9L584.6 260.9L585.6 262.6L586.6 264.4L587.6 265.8L588.6 261.9L589.6 265.6L590.6 260.8L591.6 261.3L592.6 261L593.6 261.4L594.6 262.8L595.6 261.2L596.6 259.2L597.6 260.2L598.6 262.6L599.6 261.2L600.6 264.6L601.6 263L602.6 263.6L603.6 262L604.6 258.9L605.6 258.4L606.6 261L607.6 259.4L608.6 259.9L609.6 256.5L610.6 257.4L611.6 258.5L612.6 257.9L613.6 255.5L614.6 258.1L615.6 257.2L616.6 258.6L617.6 260.4L618.6 260.7L619.6 262.2L620.6 263.6L621.6 262.6L622.6 262.7L623.6 260.7L624.6 259.7L625.6 256L626.6 260.6L627.6 263.6L628.6 264.6L629.6 262.8L630.6 258.2L631.6 259.8L632.6 256.3L633.6 258L634.6 255.7L635.6 256.8L636.6 255.2L637.6 256.4L638.6 257.2L639.6 257.8L640.6 256.2L641.6 254.9L642.6 255.8L643.6 256.9L644.6 257.7L645.6 254.5L646.6 254.7L647.6 259.6L648.6 259.5L649.6 259.7L650.6 260.8L651.6 259.8L652.6 260.8L653.6 264.7L654.6 261.8L655.6 265.7L656.6 266.1L657.6 262.7L658.6 265.7L659.6 264L660.6 262.1L661.6 262.8L662.6 261.8L663.6 257.8L664.6 259L665.6 259.7L666.6 261L667.6 261.9L668.6 261.6L669.6 261.6L670.6 260.6L671.6 262.6L672.6 260.5L673.6 260.6L674.6 257.5L675.6 260.5L676.6 262.9L677.6 263L678.6 265.6L679.6 265.9L680.6 264.2L681.6 264.9L682.6 265.1L683.6 264L684.6 261.4L685.6 258.9L686.6 262.4L687 277.2Z"/></defs>
<use href="#ap1" fill="#000"/>
<g clip-path="url(#bc1)"><use href="#ap1" fill="#19295a"/></g>
<rect x="36.6" y="295.3" width="650.4" height="16.3" fill="#b1c3f1"/>
<clipPath id="bc2"><rect x="36.6" y="295.3" width="650.4" height="17.3"/></clipPath>
<defs><path id="ap2" d="M36.6 311.6L36.6 294.1L37.6 298.7L38.6 300.5L39.6 297.4L40.6 301.4L41.6 301.4L42.6 298.8L43.6 299.9L44.6 298.8L45.6 302.8L46.6 301.1L47.6 301.8L48.6 299L49.6 296.7L50.6 299.4L51.6 300L52.6 301L53.6 302.8L54.6 298.5L55.6 298.9L56.6 299.4L57.6 299.4L58.6 297.4L59.6 299.8L60.6 299.5L61.6 300.7L62.6 299.4L63.6 300.5L64.6 299.4L65.6 299.3L66.6 300.4L67.6 296.6L68.6 299.1L69.6 296.6L70.6 296.8L71.6 299.1L72.6 302.2L73.6 300.3L74.6 301.4L75.6 303.5L76.6 304.2L77.6 302.5L78.6 304.5L79.6 301.4L80.6 302.6L81.6 302.2L82.6 302.2L83.6 300.9L84.6 299.5L85.6 301.6L86.6 302.1L87.6 302.8L88.6 305.3L89.6 306L90.6 307.9L91.6 307.5L92.6 305.1L93.6 303.9L94.6 304.2L95.6 300L96.6 301.8L97.6 300.8L98.6 300.3L99.6 298.3L100.6 298.7L101.6 301.1L102.6 302L103.6 303.9L104.6 302.2L105.6 305.9L106.6 305.9L107.6 305.8L108.6 304L109.6 302L110.6 301.9L111.6 302.1L112.6 299.5L113.6 298.1L114.6 300.1L115.6 303.2L116.6 302.6L117.6 304.8L118.6 302.6L119.6 300L120.6 298.6L121.6 299.9L122.6 297.5L123.6 298.4L124.6 297.8L125.6 297.8L126.6 296.2L127.6 297.7L128.6 299.2L129.6 298.4L130.6 299.1L131.6 300.7L132.6 299.2L133.6 299.4L134.6 300.6L135.6 299.4L136.6 303.3L137.6 301.6L138.6 301.2L139.6 302.5L140.6 303.6L141.6 302.2L142.6 303.8L143.6 304.9L144.6 306.3L145.6 303.9L146.6 306.4L147.6 307.7L148.6 307.9L149.6 307.9L150.6 306.5L151.6 308.5L152.6 308.4L153.6 308.6L154.6 307.3L155.6 307.7L156.6 307L157.6 306.2L158.6 306L159.6 306.5L160.6 308.6L161.6 307.4L162.6 305.8L163.6 307.9L164.6 307.1L165.6 306.9L166.6 307.9L167.6 307.6L168.6 308.4L169.6 309.3L170.6 309.5L171.6 309.2L172.6 308.8L173.6 309L174.6 307.1L175.6 308.7L176.6 307L177.6 307.9L178.6 309.7L179.6 308.8L180.6 308.8L181.6 310.4L182.6 309.6L183.6 310.8L184.6 309.5L185.6 311.3L186.6 309.4L187.6 307.9L188.6 307.5L189.6 308.6L190.6 308L191.6 309.1L192.6 308.8L193.6 307.6L194.6 307.9L195.6 310L196.6 309.3L197.6 308.9L198.6 310.2L199.6 309L200.6 309.1L201.6 310L202.6 310.4L203.6 308.9L204.6 309.3L205.6 309.6L206.6 309L207.6 308.9L208.6 307.5L209.6 308.6L210.6 308.5L211.6 308.6L212.6 308.6L213.6 310.4L214.6 309.6L215.6 308.3L216.6 308.2L217.6 308.8L218.6 308.5L219.6 310L220.6 310.5L221.6 311.1L222.6 310.8L223.6 311.3L224.6 311.1L225.6 309.8L226.6 311.1L227.6 309.9L228.6 308.9L229.6 309.1L230.6 309.1L231.6 308.4L232.6 310.1L233.6 307.7L234.6 308.2L235.6 307.8L236.6 306.2L237.6 306L238.6 304.8L239.6 303.6L240.6 303.1L241.6 303.5L242.6 305.4L243.6 306.8L244.6 306.2L245.6 305.9L246.6 307L247.6 305.2L248.6 305.4L249.6 306.1L250.6 305.8L251.6 306.2L252.6 306.7L253.6 307.8L254.6 308L255.6 308.2L256.6 308.8L257.6 306.5L258.6 308.3L259.6 309L260.6 308.3L261.6 308.7L262.6 307.6L263.6 307.7L264.6 307.9L265.6 306.8L266.6 306.6L267.6 306.2L268.6 304.2L269.6 305.2L270.6 303.9L271.6 302.7L272.6 302.8L273.6 305.1L274.6 307.1L275.6 305.4L276.6 307.7L277.6 309.1L278.6 309.1L279.6 308.5L280.6 308L281.6 308.2L282.6 308.4L283.6 306L284.6 306.7L285.6 308.7L286.6 307.9L287.6 307.3L288.6 308.2L289.6 309.5L290.6 308.7L291.6 308.1L292.6 306.3L293.6 306.7L294.6 306.7L295.6 305.8L296.6 307.2L297.6 304.9L298.6 304.4L299.6 305.4L300.6 306.8L301.6 307.5L302.6 308.8L303.6 308.7L304.6 308.6L305.6 307.8L306.6 307L307.6 308.6L308.6 307.4L309.6 305.1L310.6 303.2L311.6 304.5L312.6 300.5L313.6 301.3L314.6 301.9L315.6 301.7L316.6 299.1L317.6 297.2L318.6 299.3L319.6 298.3L320.6 297L321.6 298.5L322.6 297L323.6 294.1L324.6 295.9L325.6 294.6L326.6 297.5L327.6 294.5L328.6 295L329.6 298.3L330.6 297.3L331.6 297.1L332.6 297.6L333.6 296.6L334.6 297.7L335.6 295.3L336.6 296L337.6 293.4L338.6 295.4L339.6 291.7L340.6 292L341.6 292L342.6 288.8L343.6 288L344.6 284.9L345.6 291.1L346.6 290.6L347.6 294.5L348.6 294.1L349.6 299.1L350.6 297.8L351.6 299.1L352.6 301.9L353.6 301.6L354.6 299.9L355.6 297.8L356.6 299.9L357.6 302L358.6 301.1L359.6 299L360.6 300.9L361.6 296.4L362.6 297.5L363.6 298.7L364.6 299.4L365.6 298.4L366.6 298.2L367.6 299.6L368.6 299.8L369.6 297.5L370.6 298.4L371.6 297.2L372.6 297.8L373.6 297.2L374.6 298.4L375.6 300.6L376.6 300.8L377.6 296.8L378.6 299.8L379.6 298.5L380.6 297.7L381.6 292.6L382.6 294L383.6 293.2L384.6 296.2L385.6 299.5L386.6 300.9L387.6 299.2L388.6 300.5L389.6 296.9L390.6 299.3L391.6 302.5L392.6 302.8L393.6 303.6L394.6 304.1L395.6 300.2L396.6 299L397.6 299.8L398.6 297.1L399.6 297.5L400.6 297.6L401.6 298.9L402.6 294.3L403.6 295.3L404.6 298.8L405.6 300.2L406.6 302.6L407.6 301L408.6 299.2L409.6 300.5L410.6 300.2L411.6 298L412.6 296.7L413.6 299.4L414.6 298.5L415.6 296.5L416.6 299.2L417.6 295.2L418.6 297.6L419.6 294.8L420.6 296.9L421.6 298.6L422.6 299.7L423.6 299.5L424.6 299.1L425.6 297L426.6 296.7L427.6 297.3L428.6 298.7L429.6 296.8L430.6 296.3L431.6 298.5L432.6 300.6L433.6 299.7L434.6 301.6L435.6 302.5L436.6 302.4L437.6 303L438.6 299L439.6 301L440.6 297.7L441.6 298.6L442.6 302.6L443.6 299.7L444.6 300.9L445.6 302.8L446.6 301.1L447.6 302.2L448.6 303.6L449.6 302.7L450.6 302.2L451.6 301.3L452.6 302.8L453.6 306.4L454.6 304.8L455.6 303.4L456.6 300.7L457.6 299.2L458.6 298.2L459.6 298.7L460.6 295.4L461.6 297L462.6 292.9L463.6 294.5L464.6 295L465.6 294L466.6 297.1L467.6 296.3L468.6 295.3L469.6 292.7L470.6 291.3L471.6 287L472.6 287.9L473.6 285.9L474.6 288.1L475.6 289.6L476.6 289.1L477.6 289.4L478.6 289.2L479.6 296.1L480.6 296.8L481.6 297.8L482.6 298L483.6 294.6L484.6 293L485.6 295.3L486.6 294.7L487.6 291.3L488.6 290L489.6 292.5L490.6 292.6L491.6 292.5L492.6 298L493.6 295.3L494.6 296.6L495.6 297.6L496.6 300.7L497.6 301.7L498.6 299.6L499.6 299.5L500.6 295.9L501.6 295.6L502.6 293.9L503.6 297.5L504.6 298.8L505.6 301.2L506.6 301L507.6 300.9L508.6 295.8L509.6 292.4L510.6 293.9L511.6 295.5L512.6 294L513.6 292L514.6 290.4L515.6 290.2L516.6 289.3L517.6 291.9L518.6 289.9L519.6 288.3L520.6 292.6L521.6 296.2L522.6 295.5L523.6 294.2L524.6 298.7L525.6 298.9L526.6 295.4L527.6 291.7L528.6 293.1L529.6 293.5L530.6 290.3L531.6 293.5L532.6 292.4L533.6 290.9L534.6 289.7L535.6 290.1L536.6 296.6L537.6 299.7L538.6 300.6L539.6 303L540.6 302.5L541.6 299.9L542.6 298.4L543.6 300.9L544.6 301.2L545.6 298.3L546.6 297.6L547.6 298.5L548.6 300.4L549.6 299.2L550.6 298L551.6 296L552.6 295.3L553.6 290.7L554.6 294.6L555.6 300L556.6 301.8L557.6 303.3L558.6 301.2L559.6 298.3L560.6 298.8L561.6 297L562.6 293.8L563.6 295.7L564.6 292.4L565.6 291.1L566.6 290.8L567.6 289.5L568.6 287.9L569.6 290.2L570.6 293.6L571.6 293.5L572.6 291.6L573.6 286.5L574.6 288.7L575.6 291.6L576.6 295.6L577.6 294.6L578.6 291.4L579.6 292.2L580.6 288.1L581.6 291L582.6 291.8L583.6 295.2L584.6 296.7L585.6 298.5L586.6 300.9L587.6 298.5L588.6 296.3L589.6 294.7L590.6 292.9L591.6 296.2L592.6 292.2L593.6 293.9L594.6 292.8L595.6 289.7L596.6 291.7L597.6 290.9L598.6 292.8L599.6 291.7L600.6 291.1L601.6 290.7L602.6 288.8L603.6 291.1L604.6 290.7L605.6 290.1L606.6 285L607.6 282.2L608.6 281.9L609.6 284L610.6 286.9L611.6 284.2L612.6 288.3L613.6 288.8L614.6 286.8L615.6 285.2L616.6 288.9L617.6 287.2L618.6 291.5L619.6 289.1L620.6 291L621.6 291L622.6 289.7L623.6 288.4L624.6 289.5L625.6 286.7L626.6 289.7L627.6 291.9L628.6 296L629.6 294.4L630.6 296.3L631.6 294.5L632.6 288.8L633.6 284.3L634.6 283.7L635.6 282.8L636.6 282.2L637.6 282L638.6 282.2L639.6 283.4L640.6 283.7L641.6 284.6L642.6 284.7L643.6 283.2L644.6 284.2L645.6 284.9L646.6 284.1L647.6 286.3L648.6 291L649.6 291.6L650.6 293L651.6 292.7L652.6 294.6L653.6 297.6L654.6 296.3L655.6 294.2L656.6 292.1L657.6 292.5L658.6 295.4L659.6 298.1L660.6 297.2L661.6 295.5L662.6 298.3L663.6 295.6L664.6 294.8L665.6 295.3L666.6 297.2L667.6 298.2L668.6 298.7L669.6 296.2L670.6 292L671.6 293.5L672.6 289.4L673.6 289.8L674.6 292.4L675.6 294.5L676.6 295L677.6 293.8L678.6 296.7L679.6 297.9L680.6 293.8L681.6 294L682.6 294.2L683.6 292.8L684.6 293.2L685.6 289.9L686.6 288.7L687 311.6Z"/></defs>
<use href="#ap2" fill="#000"/>
<g clip-path="url(#bc2)"><use href="#ap2" fill="#19295a"/></g>
<path d="M36 312.2H687.6" stroke="#000" stroke-width="1.5"/>
<rect x="36.6" y="332.6" width="650.4" height="16.9" fill="#b198f2"/>
<path d="M36.6 348.5H687" stroke="#1c1348" stroke-width="0.9" fill="none" opacity="0.9"/>
<path d="M37.1 348.6v-0.7M40.1 348.6v-0.3M41.1 348.6v-0.3M43.1 348.6v-0.5M44.1 348.6v-0.3M48.1 348.6v-0.3M49.1 348.6v-1M56.1 348.6v-1M63.1 348.6v-0.3M70.1 348.6v-0.6M72.1 348.6v-0.3M74.1 348.6v-0.4M77.1 348.6v-0.4M78.1 348.6v-0.3M79.1 348.6v-0.4M80.1 348.6v-0.6M85.1 348.6v-0.3M89.1 348.6v-0.4M93.1 348.6v-1M96.1 348.6v-1.3M99.1 348.6v-0.6M104.1 348.6v-0.3M105.1 348.6v-0.7M106.1 348.6v-0.3M107.1 348.6v-0.6M110.1 348.6v-0.4M111.1 348.6v-0.3M112.1 348.6v-1.4M113.1 348.6v-0.3M114.1 348.6v-0.5M115.1 348.6v-0.4M118.1 348.6v-0.3M124.1 348.6v-0.3M128.1 348.6v-0.7M130.1 348.6v-0.5M132.1 348.6v-0.3M133.1 348.6v-0.3M134.1 348.6v-0.4M135.1 348.6v-0.8M137.1 348.6v-0.8M138.1 348.6v-0.4M140.1 348.6v-0.3M142.1 348.6v-1M143.1 348.6v-0.9M144.1 348.6v-0.3M146.1 348.6v-0.3M151.1 348.6v-0.5M152.1 348.6v-0.9M153.1 348.6v-1.1M155.1 348.6v-0.3M156.1 348.6v-1M157.1 348.6v-0.4M159.1 348.6v-0.9M160.1 348.6v-0.7M170.1 348.6v-0.3M174.1 348.6v-1.3M175.1 348.6v-0.3M176.1 348.6v-0.3M178.1 348.6v-0.7M186.1 348.6v-0.8M187.1 348.6v-0.3M190.1 348.6v-0.8M192.1 348.6v-0.3M193.1 348.6v-0.3M195.1 348.6v-1M201.1 348.6v-0.4M204.1 348.6v-0.4M206.1 348.6v-0.5M207.1 348.6v-0.9M208.1 348.6v-0.3M210.1 348.6v-1.1M214.1 348.6v-0.8M218.1 348.6v-1M219.1 348.6v-1M220.1 348.6v-0.3M223.1 348.6v-0.4M225.1 348.6v-0.5M226.1 348.6v-0.4M228.1 348.6v-0.3M229.1 348.6v-0.7M233.1 348.6v-1.1M241.1 348.6v-0.3M244.1 348.6v-0.6M257.1 348.6v-0.6M261.1 348.6v-0.4M270.1 348.6v-0.3M271.1 348.6v-0.3M272.1 348.6v-1.3M273.1 348.6v-1.2M274.1 348.6v-0.3M276.1 348.6v-0.3M277.1 348.6v-0.3M279.1 348.6v-0.3M280.1 348.6v-0.7M281.1 348.6v-0.3M289.1 348.6v-0.3M294.1 348.6v-0.7M297.1 348.6v-0.3M301.1 348.6v-0.7M302.1 348.6v-0.6M303.1 348.6v-1M305.1 348.6v-0.9M306.1 348.6v-0.3M307.1 348.6v-0.4M308.1 348.6v-0.7M312.1 348.6v-0.3M314.1 348.6v-1.1M315.1 348.6v-0.3M320.1 348.6v-0.3M322.1 348.6v-0.3M324.1 348.6v-0.4M327.1 348.6v-0.7M339.1 348.6v-0.8M340.1 348.6v-0.4M341.1 348.6v-0.5M355.1 348.6v-0.3M359.1 348.6v-0.3M363.1 348.6v-0.8M366.1 348.6v-0.4M371.1 348.6v-0.7M377.1 348.6v-1.3M378.1 348.6v-1.3M384.1 348.6v-0.9M386.1 348.6v-0.3M391.1 348.6v-0.9M392.1 348.6v-0.7M395.1 348.6v-0.8M397.1 348.6v-0.5M398.1 348.6v-0.7M403.1 348.6v-0.4M404.1 348.6v-0.7M405.1 348.6v-0.5M406.1 348.6v-0.5M407.1 348.6v-0.3M413.1 348.6v-0.6M415.1 348.6v-0.3M416.1 348.6v-0.5M420.1 348.6v-0.7M422.1 348.6v-0.6M423.1 348.6v-0.3M426.1 348.6v-0.4M427.1 348.6v-0.6M429.1 348.6v-0.7M431.1 348.6v-0.3M435.1 348.6v-0.8M438.1 348.6v-0.4M440.1 348.6v-0.3M443.1 348.6v-1.1M444.1 348.6v-0.4M448.1 348.6v-0.5M455.1 348.6v-0.7M456.1 348.6v-1.1M462.1 348.6v-0.5M463.1 348.6v-0.5M465.1 348.6v-0.9M467.1 348.6v-0.3M470.1 348.6v-0.3M475.1 348.6v-0.6M476.1 348.6v-0.3M479.1 348.6v-1.2M480.1 348.6v-0.3M481.1 348.6v-0.9M486.1 348.6v-1.3M487.1 348.6v-0.3M491.1 348.6v-1M493.1 348.6v-0.3M495.1 348.6v-0.3M501.1 348.6v-0.7M502.1 348.6v-1.2M504.1 348.6v-0.7M505.1 348.6v-0.3M508.1 348.6v-0.5M509.1 348.6v-0.4M512.1 348.6v-1.1M513.1 348.6v-0.3M514.1 348.6v-0.3M515.1 348.6v-0.6M517.1 348.6v-0.4M518.1 348.6v-0.6M525.1 348.6v-0.3M528.1 348.6v-0.3M539.1 348.6v-0.3M544.1 348.6v-0.7M545.1 348.6v-1M549.1 348.6v-0.5M554.1 348.6v-0.3M558.1 348.6v-0.3M560.1 348.6v-0.3M561.1 348.6v-0.3M562.1 348.6v-0.3M565.1 348.6v-0.3M567.1 348.6v-0.3M572.1 348.6v-0.3M573.1 348.6v-0.3M574.1 348.6v-0.9M575.1 348.6v-0.4M576.1 348.6v-0.3M580.1 348.6v-0.5M582.1 348.6v-0.4M587.1 348.6v-1.1M589.1 348.6v-1.1M603.1 348.6v-0.3M604.1 348.6v-1.2M606.1 348.6v-0.3M611.1 348.6v-0.4M615.1 348.6v-0.4M620.1 348.6v-1M622.1 348.6v-0.4M624.1 348.6v-0.3M626.1 348.6v-0.5M627.1 348.6v-0.4M629.1 348.6v-0.3M633.1 348.6v-0.3M638.1 348.6v-0.4M645.1 348.6v-0.3M647.1 348.6v-0.5M648.1 348.6v-1.2M649.1 348.6v-0.6M652.1 348.6v-0.5M653.1 348.6v-0.3M654.1 348.6v-0.3M656.1 348.6v-1.2M660.1 348.6v-0.3M665.1 348.6v-0.6M668.1 348.6v-1.2M669.1 348.6v-0.5M670.1 348.6v-0.5M671.1 348.6v-0.4M672.1 348.6v-0.4M674.1 348.6v-0.3M678.1 348.6v-0.6M679.1 348.6v-0.3M681.1 348.6v-0.3" stroke="#1c1348" stroke-width=".7" fill="none" opacity=".9"/>
<path d="M49.1 348.6L49.6 343.6L50.1 348.6ZM198.1 348.6L198.5 326.6L198.9 348.6ZM197.6 348.6L198.5 342.6L199.4 348.6ZM277.9 348.6L278.4 334.5L278.9 348.6ZM277.5 348.6L278.4 344.6L279.3 348.6ZM280.7 348.6L281.2 346.6L281.7 348.6ZM325.9 348.6L326.4 339.2L326.9 348.6ZM354.2 348.6L354.6 345.1L355 348.6ZM356 348.6L356.4 345.1L356.8 348.6ZM167.5 348.6L168 346.1L168.5 348.6ZM399 348.6L399.5 345.6L400 348.6ZM404.7 348.6L405 345.6L405.3 348.6ZM413.2 348.6L413.6 346.6L414 348.6ZM432.7 348.6L433 345.1L433.3 348.6ZM434.7 348.6L435 345.1L435.3 348.6ZM440.7 348.6L441 342.1L441.3 348.6ZM445.2 348.6L445.6 345.1L446 348.6ZM448.5 348.6L448.8 340.6L449.1 348.6ZM557.2 348.6L557.6 345.6L558 348.6Z" fill="#1c1348" stroke="#1c1348" stroke-width=".3"/>
<rect x="36.6" y="367.7" width="650.4" height="17.2" fill="#b198f2"/>
<path d="M36.6 383.5H687" stroke="#1c1348" stroke-width="1.0" fill="none" opacity="1"/>
<path d="M37.1 384v-0.9M40.1 384v-0.3M43.1 384v-0.9M44.1 384v-1.1M45.1 384v-0.3M47.1 384v-0.3M50.1 384v-0.6M52.1 384v-0.8M53.1 384v-0.4M54.1 384v-0.3M56.1 384v-2M57.1 384v-0.7M60.1 384v-0.7M62.1 384v-0.3M64.1 384v-0.3M65.1 384v-0.3M67.1 384v-0.3M69.1 384v-0.3M70.1 384v-1M71.1 384v-0.6M72.1 384v-0.5M74.1 384v-0.5M75.1 384v-0.4M76.1 384v-0.3M77.1 384v-0.3M80.1 384v-0.3M82.1 384v-0.3M85.1 384v-0.4M86.1 384v-1.8M87.1 384v-0.3M88.1 384v-0.7M89.1 384v-0.3M90.1 384v-0.3M91.1 384v-2M92.1 384v-0.3M94.1 384v-0.3M95.1 384v-0.3M96.1 384v-0.3M98.1 384v-0.3M101.1 384v-1.1M102.1 384v-0.6M103.1 384v-1.8M105.1 384v-1.3M106.1 384v-0.4M108.1 384v-1.1M109.1 384v-1.6M111.1 384v-1.7M112.1 384v-0.4M113.1 384v-0.3M114.1 384v-0.9M115.1 384v-0.3M116.1 384v-0.6M117.1 384v-1.2M118.1 384v-0.4M119.1 384v-0.3M120.1 384v-0.3M122.1 384v-0.8M123.1 384v-0.8M125.1 384v-1.7M127.1 384v-0.3M128.1 384v-0.3M129.1 384v-1.7M131.1 384v-0.9M133.1 384v-0.3M135.1 384v-2M139.1 384v-1.2M140.1 384v-0.3M141.1 384v-0.7M142.1 384v-0.5M144.1 384v-0.6M145.1 384v-1.9M146.1 384v-0.9M148.1 384v-2M149.1 384v-2M153.1 384v-0.5M154.1 384v-1.7M155.1 384v-0.3M160.1 384v-1.3M161.1 384v-1.6M162.1 384v-0.4M163.1 384v-1.2M164.1 384v-0.9M166.1 384v-0.3M167.1 384v-1.4M168.1 384v-0.4M169.1 384v-0.3M170.1 384v-0.3M171.1 384v-1.4M172.1 384v-0.3M174.1 384v-0.3M179.1 384v-0.3M183.1 384v-0.4M185.1 384v-0.7M186.1 384v-1.1M187.1 384v-0.5M189.1 384v-0.3M191.1 384v-1.4M192.1 384v-1.6M193.1 384v-0.3M194.1 384v-0.9M195.1 384v-0.8M196.1 384v-1.9M197.1 384v-1.2M198.1 384v-0.5M199.1 384v-0.3M200.1 384v-1.6M201.1 384v-0.4M202.1 384v-0.7M203.1 384v-0.4M205.1 384v-0.4M208.1 384v-0.3M209.1 384v-1.6M210.1 384v-0.3M212.1 384v-1.4M213.1 384v-0.4M214.1 384v-0.3M216.1 384v-1.1M218.1 384v-1.3M220.1 384v-0.7M221.1 384v-0.6M223.1 384v-0.6M224.1 384v-1.4M227.1 384v-1M228.1 384v-0.6M229.1 384v-1.6M230.1 384v-0.5M231.1 384v-0.4M232.1 384v-0.8M234.1 384v-1.6M235.1 384v-0.3M236.1 384v-1.9M239.1 384v-0.5M240.1 384v-0.3M241.1 384v-0.3M242.1 384v-0.5M246.1 384v-0.3M248.1 384v-0.4M250.1 384v-1.8M253.1 384v-1.8M254.1 384v-0.9M255.1 384v-0.3M256.1 384v-0.3M258.1 384v-0.3M260.1 384v-0.3M261.1 384v-0.3M262.1 384v-1M264.1 384v-1.6M265.1 384v-0.3M267.1 384v-1.2M269.1 384v-1.4M270.1 384v-0.5M272.1 384v-0.3M273.1 384v-1.5M274.1 384v-0.9M279.1 384v-1.6M280.1 384v-0.3M282.1 384v-1.9M283.1 384v-0.4M284.1 384v-0.4M285.1 384v-1.2M286.1 384v-0.4M287.1 384v-1.9M288.1 384v-0.5M290.1 384v-0.4M291.1 384v-0.3M293.1 384v-0.5M294.1 384v-1.1M296.1 384v-1.8M300.1 384v-0.4M302.1 384v-1M303.1 384v-0.4M304.1 384v-1M305.1 384v-0.5M310.1 384v-1.7M311.1 384v-0.4M314.1 384v-1.5M315.1 384v-0.3M316.1 384v-1.7M317.1 384v-0.4M318.1 384v-0.3M320.1 384v-0.3M322.1 384v-0.3M323.1 384v-1.5M324.1 384v-0.6M328.1 384v-0.6M329.1 384v-1.4M330.1 384v-0.3M331.1 384v-0.7M332.1 384v-0.8M333.1 384v-0.4M334.1 384v-1M337.1 384v-0.3M341.1 384v-1.5M344.1 384v-1.1M345.1 384v-0.3M346.1 384v-0.3M348.1 384v-0.3M350.1 384v-0.4M353.1 384v-0.6M354.1 384v-0.4M356.1 384v-2M357.1 384v-0.3M358.1 384v-0.3M363.1 384v-0.4M364.1 384v-0.4M365.1 384v-1.2M366.1 384v-0.4M368.1 384v-1.5M371.1 384v-0.7M374.1 384v-1.9M375.1 384v-1.7M378.1 384v-1.5M379.1 384v-0.4M381.1 384v-0.8M382.1 384v-1.5M383.1 384v-0.3M384.1 384v-0.5M386.1 384v-0.3M387.1 384v-0.6M388.1 384v-0.6M391.1 384v-0.5M392.1 384v-0.5M394.1 384v-0.8M396.1 384v-0.4M398.1 384v-0.3M400.1 384v-0.3M401.1 384v-0.5M403.1 384v-0.9M404.1 384v-0.3M405.1 384v-1.3M406.1 384v-0.6M407.1 384v-0.3M408.1 384v-0.3M409.1 384v-0.3M410.1 384v-1.2M413.1 384v-1.2M414.1 384v-0.9M415.1 384v-1M416.1 384v-1.9M417.1 384v-1.2M418.1 384v-1M419.1 384v-0.4M420.1 384v-0.8M421.1 384v-0.3M423.1 384v-0.5M424.1 384v-0.3M425.1 384v-1.8M426.1 384v-1M427.1 384v-1.3M429.1 384v-1.7M430.1 384v-0.3M431.1 384v-0.9M432.1 384v-0.9M433.1 384v-0.5M434.1 384v-1.9M435.1 384v-0.9M436.1 384v-0.3M437.1 384v-0.3M439.1 384v-0.5M440.1 384v-0.3M441.1 384v-0.5M444.1 384v-0.3M445.1 384v-0.4M446.1 384v-1.9M447.1 384v-0.3M448.1 384v-0.6M449.1 384v-0.3M450.1 384v-0.3M453.1 384v-2M454.1 384v-1.8M455.1 384v-0.3M456.1 384v-0.6M458.1 384v-0.9M459.1 384v-1.8M462.1 384v-0.3M463.1 384v-0.5M464.1 384v-0.3M465.1 384v-2M466.1 384v-0.3M467.1 384v-0.3M468.1 384v-1.2M471.1 384v-0.7M473.1 384v-1.1M474.1 384v-0.5M476.1 384v-0.3M479.1 384v-1M480.1 384v-0.7M482.1 384v-0.4M484.1 384v-0.3M485.1 384v-0.3M487.1 384v-1.9M488.1 384v-0.3M491.1 384v-0.6M492.1 384v-0.3M493.1 384v-1.5M494.1 384v-0.3M495.1 384v-0.3M497.1 384v-0.3M498.1 384v-0.9M499.1 384v-1.3M501.1 384v-0.5M503.1 384v-0.4M506.1 384v-1.4M507.1 384v-1.3M508.1 384v-2M509.1 384v-0.3M510.1 384v-0.5M512.1 384v-0.3M513.1 384v-0.3M515.1 384v-0.3M516.1 384v-0.3M517.1 384v-0.4M519.1 384v-0.9M522.1 384v-0.5M524.1 384v-1.8M525.1 384v-0.3M526.1 384v-1.4M527.1 384v-0.5M528.1 384v-0.5M530.1 384v-0.3M531.1 384v-0.3M533.1 384v-0.8M534.1 384v-0.4M535.1 384v-0.3M537.1 384v-1.2M539.1 384v-1.3M540.1 384v-1.9M541.1 384v-0.3M542.1 384v-0.6M543.1 384v-0.4M544.1 384v-0.6M546.1 384v-0.5M547.1 384v-1M548.1 384v-1.5M549.1 384v-0.6M550.1 384v-0.6M551.1 384v-0.3M552.1 384v-0.3M553.1 384v-0.5M556.1 384v-0.8M557.1 384v-0.3M558.1 384v-1.6M560.1 384v-1.4M561.1 384v-0.3M565.1 384v-0.5M566.1 384v-0.3M567.1 384v-1.9M569.1 384v-0.9M571.1 384v-0.3M572.1 384v-0.6M573.1 384v-0.3M574.1 384v-0.8M575.1 384v-0.3M581.1 384v-0.6M582.1 384v-1.9M583.1 384v-2M584.1 384v-0.4M585.1 384v-1.8M590.1 384v-0.3M591.1 384v-0.3M592.1 384v-1.1M594.1 384v-1.7M595.1 384v-0.5M598.1 384v-1.6M599.1 384v-1.3M602.1 384v-0.4M603.1 384v-0.4M604.1 384v-0.3M605.1 384v-1.3M607.1 384v-0.3M608.1 384v-1.2M609.1 384v-0.6M610.1 384v-0.9M611.1 384v-0.5M612.1 384v-0.5M613.1 384v-0.9M615.1 384v-0.3M616.1 384v-0.4M618.1 384v-0.3M619.1 384v-0.5M620.1 384v-0.9M621.1 384v-1.9M622.1 384v-0.6M623.1 384v-0.3M627.1 384v-0.8M628.1 384v-0.3M629.1 384v-0.3M630.1 384v-0.5M631.1 384v-0.4M634.1 384v-0.6M635.1 384v-0.7M637.1 384v-1.4M640.1 384v-0.3M643.1 384v-0.5M644.1 384v-0.5M646.1 384v-0.4M649.1 384v-0.6M650.1 384v-0.9M653.1 384v-0.5M657.1 384v-1M659.1 384v-0.3M660.1 384v-1.9M662.1 384v-1.4M663.1 384v-1M664.1 384v-2M665.1 384v-0.4M666.1 384v-0.4M667.1 384v-0.3M668.1 384v-0.3M671.1 384v-0.5M675.1 384v-1.9M676.1 384v-0.7M678.1 384v-0.4M682.1 384v-0.3M685.1 384v-0.3M686.1 384v-0.5" stroke="#1c1348" stroke-width=".7" fill="none" opacity=".9"/>
<path d="M198.1 384L198.5 349.5L198.9 384ZM197.6 384L198.5 370L199.4 384ZM196.9 384L198.5 378L200.1 384ZM194.1 384L194.7 377.7L195.3 384ZM200.3 384L201 378L201.7 384ZM195.9 384L196.5 380.5L197.1 384ZM202.4 384L203 381L203.6 384ZM206.9 384L207.4 380.5L207.9 384ZM211.8 384L212.3 380.5L212.8 384ZM217.5 384L218 380L218.5 384ZM223.8 384L224.3 378L224.8 384ZM228 384L228.3 366.3L228.7 384ZM227.6 384L228.3 379L229 384ZM230.9 384L231.4 381L231.9 384ZM234.4 384L234.9 377.5L235.4 384ZM277.9 384L278.4 365.7L278.9 384ZM277.5 384L278.4 379L279.3 384ZM325.9 384L326.4 372.7L326.9 384ZM355.9 384L356.4 377.7L356.8 384ZM309.4 384L309.9 382.5L310.4 384ZM399 384L399.5 380.5L400 384ZM404.7 384L405 381.5L405.3 384ZM413.2 384L413.6 377L414.1 384ZM432.7 384L433 378L433.3 384ZM433.9 384L434.2 378.5L434.5 384ZM435 384L435.3 378L435.6 384ZM440.6 384L441 378.5L441.4 384ZM445.2 384L445.6 378L446 384ZM448.5 384L448.8 373L449.1 384ZM189.8 384L190.3 383.4L190.8 384ZM191.3 384L191.8 383.6L192.3 384ZM193 384L193.5 382.5L194 384ZM194.4 384L194.9 383.7L195.4 384ZM195.8 384L196.3 383.5L196.8 384ZM197.1 384L197.6 382.2L198.1 384ZM199.1 384L199.6 383.7L200.1 384ZM200.5 384L201 383.1L201.5 384ZM201.7 384L202.2 383.6L202.7 384ZM203.4 384L203.9 383.3L204.4 384ZM204.9 384L205.4 383L205.9 384ZM206.1 384L206.6 382.7L207.1 384ZM208.1 384L208.6 382.1L209.1 384ZM209.4 384L209.9 383.7L210.4 384ZM210.5 384L211 383.7L211.5 384ZM212.6 384L213.1 383.5L213.6 384ZM213.7 384L214.2 382.3L214.7 384ZM215.2 384L215.7 383.2L216.2 384ZM216.8 384L217.3 383.7L217.8 384ZM218.4 384L218.9 382.5L219.4 384ZM219.6 384L220.1 383.6L220.6 384ZM221.2 384L221.7 383.7L222.2 384ZM222.8 384L223.3 382.6L223.8 384ZM224.4 384L224.9 383.2L225.4 384ZM226 384L226.5 383.7L227 384ZM227.3 384L227.8 383.5L228.3 384ZM228.9 384L229.4 383.7L229.9 384ZM230.5 384L231 383.7L231.5 384ZM231.6 384L232.1 382.6L232.6 384ZM233.6 384L234.1 383.4L234.6 384ZM234.7 384L235.2 383.6L235.7 384ZM236.2 384L236.7 383.1L237.2 384Z" fill="#1c1348" stroke="#1c1348" stroke-width=".3"/>
<path d="M36 384.2H687.6" stroke="#000" stroke-width="1.2"/>
<path d="M36 171.5V384.6" stroke="#1a1a1a" stroke-width="1.7" fill="none"/>
<path d="M30 172H36" stroke="#1a1a1a" stroke-width="1.4" fill="none"/>
<path d="M30 205.5H36M30 207.5H36" stroke="#111" stroke-width="1" fill="none"/>
<path d="M30 241.5H36M30 243.5H36" stroke="#111" stroke-width="1" fill="none"/>
<path d="M30 277.5H36M30 279.5H36" stroke="#111" stroke-width="1" fill="none"/>
<path d="M30 311.5H36M30 313.5H36" stroke="#111" stroke-width="1" fill="none"/>
<path d="M30 348.5H36M30 350.5H36" stroke="#111" stroke-width="1" fill="none"/>
<path d="M30 384.1H36" stroke="#1a1a1a" stroke-width="1.2" fill="none"/>
<path d="M687.6 170.5V385.5" stroke="#1a1a1a" stroke-width="1.6" fill="none"/>
<text transform="translate(28.4 194.2) scale(1.09 1)" font-size="10.1" text-anchor="end" fill="#1a1a1a">RPE1</text>
<text transform="translate(28.4 229.1) scale(1.15 1)" font-size="10.1" text-anchor="end" fill="#1a1a1a">S40</text>
<text transform="translate(28.4 264.6) scale(1.09 1)" font-size="10.1" text-anchor="end" fill="#1a1a1a">RPE1</text>
<text transform="translate(28.4 300) scale(1.15 1)" font-size="10.1" text-anchor="end" fill="#1a1a1a">S40</text>
<text transform="translate(28.4 335.2) scale(1.09 1)" font-size="10.1" text-anchor="end" fill="#1a1a1a">RPE1</text>
<text transform="translate(28.4 371) scale(1.15 1)" font-size="10.1" text-anchor="end" fill="#1a1a1a">S40</text>
<path d="M693.6 173V236.3" stroke="#1a1a1a" stroke-width="1.3" fill="none"/>
<text transform="translate(697 207.6) rotate(90)" font-size="11.6" text-anchor="middle" fill="#1a1a1a">H3K4me2</text>
<path d="M693.6 246.2V309.7" stroke="#1a1a1a" stroke-width="1.3" fill="none"/>
<text transform="translate(697 277.3) rotate(90)" font-size="11.6" text-anchor="middle" fill="#1a1a1a">H3K9me3</text>
<path d="M693.6 318.5V381.6" stroke="#1a1a1a" stroke-width="1.3" fill="none"/>
<text transform="translate(697 350.4) rotate(90)" font-size="11.6" text-anchor="middle" fill="#1a1a1a">H3K27Ac</text>
<path d="M160 391.4H234.3" stroke="#000" stroke-width="1.7"/>
<path d="M160.4 391.4L33 425.7M234 391.4L691 425.6" stroke="#dc1616" stroke-width="1.7" fill="none"/>
<path d="M34.6 440.8H692" stroke="#222" stroke-width="1.1" fill="none"/>
<path d="M34.6 436.4V445.4M131.8 436.4V445.4M369.6 436.4V445.4M423.4 436.4V445.4M424.9 436.4V445.4M555.5 436.4V445.4M674.5 436.4V445.4M676.6 436.4V445.4M685.8 436.4V445.4M691.9 436.4V445.4" stroke="#222" stroke-width="1" fill="none"/>
<text transform="translate(21.6 445) scale(1.09 1)" font-size="10.4" fill="#1a1a1a">5&#8217;</text>
<text transform="translate(696.7 444.5) scale(1.09 1)" font-size="10.4" fill="#1a1a1a">3&#8217;</text>
<text transform="translate(45.8 438) scale(1.09 1)" font-size="10.3" fill="#1a1a1a">IL1RAPL1</text>
<rect x="35.4" y="470.9" width="655.2" height="17.1" fill="#afc399"/>
<path d="M35.4 487.5H690.6" stroke="#1f3016" stroke-width="0.6" stroke-dasharray="3 1.5 1.5 1 5 1.2" fill="none" opacity="0.45"/>
<path d="M35.9 487.1v-0.3M39.9 487.1v-0.3M49.9 487.1v-0.3M66.9 487.1v-0.7M75.9 487.1v-0.3M89.9 487.1v-0.3M93.9 487.1v-0.4M103.9 487.1v-0.3M105.9 487.1v-0.3M116.9 487.1v-0.3M126.9 487.1v-0.4M129.9 487.1v-0.3M131.9 487.1v-0.6M156.9 487.1v-0.4M167.9 487.1v-0.6M182.9 487.1v-0.3M189.9 487.1v-0.4M192.9 487.1v-0.3M205.9 487.1v-0.5M222.9 487.1v-1.3M227.9 487.1v-0.3M231.9 487.1v-0.3M232.9 487.1v-0.4M236.9 487.1v-0.9M246.9 487.1v-1M247.9 487.1v-0.5M255.9 487.1v-0.7M288.9 487.1v-0.8M292.9 487.1v-0.3M299.9 487.1v-0.5M320.9 487.1v-0.6M350.9 487.1v-1.1M354.9 487.1v-0.9M358.9 487.1v-0.4M360.9 487.1v-0.3M362.9 487.1v-0.4M365.9 487.1v-0.3M382.9 487.1v-0.5M388.9 487.1v-1.1M406.9 487.1v-0.4M411.9 487.1v-0.5M418.9 487.1v-0.3M435.9 487.1v-1.2M438.9 487.1v-1.1M454.9 487.1v-0.3M455.9 487.1v-0.6M464.9 487.1v-0.5M466.9 487.1v-0.5M467.9 487.1v-0.3M476.9 487.1v-0.3M494.9 487.1v-1.2M501.9 487.1v-0.3M509.9 487.1v-0.4M520.9 487.1v-1.1M528.9 487.1v-0.6M540.9 487.1v-0.3M555.9 487.1v-0.9M563.9 487.1v-0.3M572.9 487.1v-0.9M575.9 487.1v-0.3M576.9 487.1v-0.5M590.9 487.1v-0.9M601.9 487.1v-0.6M612.9 487.1v-0.9M619.9 487.1v-0.3M620.9 487.1v-0.3M623.9 487.1v-0.4M631.9 487.1v-0.4M655.9 487.1v-0.3M656.9 487.1v-0.3M660.9 487.1v-0.8M661.9 487.1v-0.7M662.9 487.1v-0.3M665.9 487.1v-0.4M681.9 487.1v-1.3M688.9 487.1v-0.4" stroke="#1f3016" stroke-width=".7" fill="none" opacity=".9"/>
<path d="M550.9 487.1L551.4 480.1L551.9 487.1ZM505.5 487.1L506 485.1L506.5 487.1ZM534.5 487.1L535 484.6L535.5 487.1Z" fill="#1f3016" stroke="#1f3016" stroke-width=".3"/>
<rect x="35.4" y="507" width="655.2" height="16.9" fill="#afc399"/>
<path d="M35.4 522.5H690.6" stroke="#1f3016" stroke-width="0.6" stroke-dasharray="3 1.5 1.5 1 5 1.2" fill="none" opacity="0.5"/>
<path d="M35.9 523v-0.3M40.9 523v-0.5M46.9 523v-0.9M47.9 523v-0.3M53.9 523v-0.3M55.9 523v-0.3M56.9 523v-0.3M57.9 523v-0.4M58.9 523v-0.3M60.9 523v-1M72.9 523v-0.4M76.9 523v-0.3M78.9 523v-0.3M80.9 523v-0.3M81.9 523v-1.4M93.9 523v-1.1M98.9 523v-0.3M99.9 523v-0.3M108.9 523v-0.3M109.9 523v-0.4M110.9 523v-0.8M119.9 523v-1.5M120.9 523v-0.3M126.9 523v-0.3M133.9 523v-1.1M136.9 523v-0.3M142.9 523v-0.6M145.9 523v-0.3M152.9 523v-1.6M155.9 523v-0.5M157.9 523v-0.3M164.9 523v-0.3M166.9 523v-0.3M174.9 523v-0.5M177.9 523v-0.5M185.9 523v-0.4M186.9 523v-0.9M188.9 523v-1.4M192.9 523v-1.6M197.9 523v-1.2M205.9 523v-0.4M213.9 523v-0.5M215.9 523v-0.6M223.9 523v-0.6M227.9 523v-0.6M229.9 523v-1.1M233.9 523v-0.3M236.9 523v-0.3M240.9 523v-0.6M244.9 523v-1.1M247.9 523v-0.8M250.9 523v-0.5M254.9 523v-0.3M257.9 523v-0.3M264.9 523v-0.5M267.9 523v-0.3M270.9 523v-0.4M272.9 523v-0.7M284.9 523v-0.5M288.9 523v-0.3M291.9 523v-0.3M295.9 523v-0.3M297.9 523v-0.7M298.9 523v-0.3M299.9 523v-0.3M300.9 523v-0.3M301.9 523v-0.3M305.9 523v-1.2M311.9 523v-0.4M319.9 523v-0.3M325.9 523v-0.9M326.9 523v-1.3M327.9 523v-0.6M329.9 523v-0.3M332.9 523v-0.4M336.9 523v-0.6M346.9 523v-0.9M353.9 523v-0.3M357.9 523v-0.5M363.9 523v-0.6M368.9 523v-0.3M378.9 523v-0.3M379.9 523v-1M382.9 523v-0.4M384.9 523v-1.2M397.9 523v-1.3M404.9 523v-0.3M405.9 523v-0.3M417.9 523v-1.1M425.9 523v-0.4M430.9 523v-0.4M437.9 523v-0.3M440.9 523v-0.3M441.9 523v-0.3M465.9 523v-0.9M473.9 523v-0.4M474.9 523v-0.6M475.9 523v-0.3M479.9 523v-1.5M481.9 523v-0.5M493.9 523v-0.5M499.9 523v-0.4M500.9 523v-0.3M506.9 523v-0.9M521.9 523v-0.4M529.9 523v-0.3M530.9 523v-0.8M537.9 523v-0.5M540.9 523v-0.3M548.9 523v-1.4M549.9 523v-0.6M551.9 523v-0.3M554.9 523v-0.3M556.9 523v-0.3M559.9 523v-0.3M569.9 523v-0.3M572.9 523v-0.3M575.9 523v-1.1M576.9 523v-0.4M579.9 523v-0.5M581.9 523v-0.3M584.9 523v-0.6M587.9 523v-0.9M593.9 523v-0.3M597.9 523v-1M609.9 523v-0.4M613.9 523v-0.3M616.9 523v-0.4M630.9 523v-1M632.9 523v-0.3M635.9 523v-0.3M639.9 523v-0.9M672.9 523v-0.5M675.9 523v-0.3M678.9 523v-1.3M687.9 523v-0.3" stroke="#1f3016" stroke-width=".7" fill="none" opacity=".9"/>
<path d="M505.7 523L506.3 518L506.9 523ZM534.4 523L535.3 513.1L536.2 523ZM538.3 523L539.2 512.1L540.1 523ZM542.4 523L543.3 509.6L544.2 523ZM546.4 523L547.2 517.4L548 523ZM548.6 523L549.4 517L550.2 523ZM550.5 523L551.3 498L552.1 523ZM555.6 523L556.4 514.5L557.2 523ZM557.5 523L558.3 514.5L559.1 523ZM560.7 523L561.6 515.5L562.5 523ZM581 523L581.8 516.5L582.6 523ZM587.2 523L588 521L588.8 523ZM589.4 523L590 521L590.6 523ZM657.5 523L658 520L658.5 523ZM662.5 523L663 519L663.5 523ZM529.5 523L530 520.5L530.5 523ZM568.5 523L569 520L569.5 523ZM532.8 523L533.4 521L534 523ZM533.9 523L534.5 520.1L535.1 523ZM534.8 523L535.4 520.2L536 523ZM535.4 523L536 521.8L536.6 523ZM537 523L537.6 521.3L538.2 523ZM537.9 523L538.5 522.4L539.1 523ZM538.7 523L539.3 522.2L539.9 523ZM539.7 523L540.3 521.5L540.9 523ZM540.4 523L541 522.3L541.6 523ZM541.6 523L542.2 520.2L542.8 523ZM542.9 523L543.5 522.3L544.1 523ZM543.9 523L544.5 522.3L545.1 523ZM544.8 523L545.4 522.4L546 523ZM545.4 523L546 520.4L546.6 523ZM546.5 523L547.1 522.3L547.7 523ZM548 523L548.6 520.4L549.2 523ZM548.6 523L549.2 520L549.8 523ZM549.7 523L550.3 521.2L550.9 523ZM550.5 523L551.1 520.1L551.7 523ZM551.8 523L552.4 520L553 523ZM552.9 523L553.5 522.2L554.1 523ZM553.6 523L554.2 522.3L554.8 523ZM554.5 523L555.1 522.4L555.7 523ZM555.6 523L556.2 521.5L556.8 523ZM556.4 523L557 521.2L557.6 523ZM557.6 523L558.2 522.2L558.8 523ZM558.9 523L559.5 521.8L560.1 523ZM559.6 523L560.2 521.8L560.8 523ZM560.8 523L561.4 522.4L562 523ZM562 523L562.6 522.4L563.2 523ZM562.8 523L563.4 520.5L564 523ZM563.4 523L564 520.8L564.6 523ZM564.9 523L565.5 521.8L566.1 523ZM566.4 523L567 522.6L567.6 523ZM567.8 523L568.4 522.1L569 523ZM569.8 523L570.4 521.9L571 523ZM571.4 523L572 521.9L572.6 523ZM573.1 523L573.7 521.9L574.3 523ZM575 523L575.6 522.5L576.2 523ZM576.6 523L577.2 522.1L577.8 523ZM578.1 523L578.7 522.3L579.3 523ZM580.2 523L580.8 522.6L581.4 523ZM581.9 523L582.5 522.1L583.1 523ZM583.6 523L584.2 522.6L584.8 523ZM584.9 523L585.5 521.9L586.1 523ZM587 523L587.6 522.4L588.2 523ZM588.3 523L588.9 522.6L589.5 523ZM590.3 523L590.9 522.6L591.5 523ZM592.2 523L592.8 522.2L593.4 523ZM593.4 523L594 522.1L594.6 523ZM595.2 523L595.8 521.6L596.4 523ZM597.2 523L597.8 522.4L598.4 523ZM598.8 523L599.4 522.1L600 523Z" fill="#1f3016" stroke="#1f3016" stroke-width=".3"/>
<rect x="35.4" y="543.4" width="655.2" height="16.2" fill="#b1c3f1"/>
<clipPath id="bc3"><rect x="35.4" y="543.4" width="655.2" height="17.2"/></clipPath>
<defs><path id="ap3" d="M35.4 559.6L35.4 550.5L36.4 550.4L37.4 548.6L38.4 541.2L39.4 541.6L40.4 538.7L41.4 542.1L42.4 546.8L43.4 547.2L44.4 546.2L45.4 542.8L46.4 541.4L47.4 537.9L48.4 539.1L49.4 543.7L50.4 546.2L51.4 544.3L52.4 549.3L53.4 547.9L54.4 545.9L55.4 547.3L56.4 542.3L57.4 548.6L58.4 544.5L59.4 545.7L60.4 547.9L61.4 542.8L62.4 540.9L63.4 544.6L64.4 541.3L65.4 545.9L66.4 539L67.4 538.2L68.4 534.6L69.4 541.9L70.4 540.5L71.4 538.9L72.4 539.9L73.4 543.9L74.4 539.9L75.4 541.7L76.4 546.9L77.4 547.9L78.4 543.4L79.4 544.2L80.4 544.1L81.4 547.2L82.4 549.4L83.4 550.3L84.4 548.3L85.4 547.7L86.4 548.1L87.4 551.5L88.4 551.9L89.4 552.1L90.4 548.7L91.4 548L92.4 548.1L93.4 547.4L94.4 546.9L95.4 548.9L96.4 545.7L97.4 547.9L98.4 548.4L99.4 550.6L100.4 545.8L101.4 549.7L102.4 546.5L103.4 548.9L104.4 547.3L105.4 547.1L106.4 548.3L107.4 547.6L108.4 548.9L109.4 554L110.4 553L111.4 550.3L112.4 549.2L113.4 549.4L114.4 548.6L115.4 544.9L116.4 548.5L117.4 548.3L118.4 545.5L119.4 549.2L120.4 546.9L121.4 551.2L122.4 549.3L123.4 553L124.4 551.8L125.4 553.5L126.4 554.3L127.4 554.4L128.4 552.8L129.4 551.8L130.4 549.5L131.4 545.4L132.4 548.4L133.4 546.4L134.4 543.2L135.4 545.3L136.4 545.5L137.4 549.1L138.4 549.4L139.4 554L140.4 552.2L141.4 554.9L142.4 554L143.4 554.2L144.4 554L145.4 551.6L146.4 552L147.4 552.6L148.4 556L149.4 553.9L150.4 552.2L151.4 552.4L152.4 552L153.4 550.3L154.4 553.3L155.4 552.5L156.4 554.2L157.4 556L158.4 553.1L159.4 551.4L160.4 551.7L161.4 549.4L162.4 547.4L163.4 546.8L164.4 549.1L165.4 548.8L166.4 542.8L167.4 546.2L168.4 546.6L169.4 547.7L170.4 550.2L171.4 547.7L172.4 548.6L173.4 546.4L174.4 548.9L175.4 552.9L176.4 553.4L177.4 553.7L178.4 555.8L179.4 555.9L180.4 547.8L181.4 545.1L182.4 538.6L183.4 531.9L184.4 535.6L185.4 544.6L186.4 542.1L187.4 545.8L188.4 548.8L189.4 553L190.4 549.9L191.4 553L192.4 549.6L193.4 551.5L194.4 550.8L195.4 551.5L196.4 547.4L197.4 550.7L198.4 546.8L199.4 549.6L200.4 552.3L201.4 550.6L202.4 552L203.4 555.1L204.4 551.6L205.4 552.9L206.4 553L207.4 547.8L208.4 548.2L209.4 550.9L210.4 552.7L211.4 551.8L212.4 552.3L213.4 552L214.4 553.1L215.4 553L216.4 552.5L217.4 553.6L218.4 551.6L219.4 547.8L220.4 543.7L221.4 544.1L222.4 544.9L223.4 548.5L224.4 547.6L225.4 550.5L226.4 548.3L227.4 549.7L228.4 544.3L229.4 544L230.4 547.6L231.4 548.8L232.4 552.3L233.4 547.7L234.4 549.6L235.4 546.4L236.4 548.3L237.4 547.1L238.4 552.6L239.4 553L240.4 552.9L241.4 548.6L242.4 550.8L243.4 547.1L244.4 549.9L245.4 546.6L246.4 550L247.4 545.5L248.4 544.7L249.4 544.9L250.4 546L251.4 544.9L252.4 545L253.4 544.9L254.4 549.1L255.4 545.9L256.4 547.2L257.4 550.4L258.4 552.1L259.4 549.2L260.4 551.3L261.4 549.7L262.4 546.4L263.4 547.5L264.4 549.4L265.4 547.8L266.4 549.6L267.4 551.7L268.4 547.7L269.4 544.6L270.4 547.1L271.4 541.9L272.4 541.8L273.4 542.9L274.4 545.6L275.4 542.8L276.4 546.1L277.4 546.9L278.4 543.4L279.4 547.8L280.4 549.4L281.4 545.2L282.4 544.7L283.4 549.2L284.4 549L285.4 548.6L286.4 548.2L287.4 553L288.4 550.6L289.4 553.4L290.4 549.8L291.4 550.3L292.4 545.3L293.4 547.2L294.4 545.4L295.4 549L296.4 547.5L297.4 546.5L298.4 545.8L299.4 547L300.4 545.1L301.4 547.7L302.4 545.7L303.4 544.6L304.4 545.1L305.4 545.4L306.4 541.8L307.4 542.3L308.4 542.1L309.4 545.3L310.4 549.5L311.4 546.5L312.4 548.7L313.4 551.3L314.4 551L315.4 547.4L316.4 543.5L317.4 540.3L318.4 543.1L319.4 549.8L320.4 545.9L321.4 549.7L322.4 551.3L323.4 552.4L324.4 554.1L325.4 554.5L326.4 549.7L327.4 547.7L328.4 550.6L329.4 546L330.4 546.4L331.4 546.7L332.4 547.3L333.4 547.1L334.4 545.3L335.4 545.4L336.4 541.7L337.4 542.2L338.4 541.6L339.4 543.2L340.4 542.2L341.4 540.6L342.4 544.4L343.4 546.1L344.4 541.4L345.4 547.2L346.4 548.1L347.4 547.7L348.4 551L349.4 549.3L350.4 552L351.4 549.3L352.4 553.8L353.4 551.9L354.4 555.5L355.4 553.3L356.4 550.7L357.4 547.2L358.4 549.3L359.4 542.1L360.4 549.6L361.4 550.4L362.4 554L363.4 552.5L364.4 555L365.4 551.7L366.4 547L367.4 545L368.4 543.1L369.4 545.6L370.4 541.6L371.4 548.1L372.4 547.2L373.4 552.3L374.4 552.1L375.4 549.3L376.4 548.7L377.4 550.3L378.4 547.3L379.4 545.2L380.4 545.8L381.4 546.6L382.4 549.3L383.4 548.7L384.4 550.2L385.4 551.5L386.4 551.6L387.4 550.8L388.4 549.1L389.4 545.3L390.4 546.8L391.4 543.6L392.4 536.5L393.4 536.8L394.4 540.2L395.4 540.2L396.4 540.5L397.4 542.3L398.4 542.8L399.4 549.3L400.4 550.4L401.4 553.1L402.4 553.8L403.4 553.1L404.4 550.9L405.4 548L406.4 541.3L407.4 544.7L408.4 542.7L409.4 545.6L410.4 544.1L411.4 543.4L412.4 542.7L413.4 539L414.4 540.5L415.4 540.4L416.4 541.7L417.4 543.3L418.4 541.7L419.4 542.6L420.4 546.7L421.4 545.6L422.4 553.5L423.4 553.4L424.4 554.6L425.4 551.8L426.4 547.2L427.4 544.2L428.4 547L429.4 544.2L430.4 542.3L431.4 545.7L432.4 545L433.4 545.6L434.4 543.9L435.4 548.2L436.4 544.4L437.4 548.5L438.4 545.4L439.4 550.1L440.4 556.7L441.4 556.4L442.4 555L443.4 555.3L444.4 553.5L445.4 550.5L446.4 550.9L447.4 552L448.4 553L449.4 549.8L450.4 550.3L451.4 550.6L452.4 549.7L453.4 546.8L454.4 548.9L455.4 546.4L456.4 544L457.4 548.3L458.4 547.8L459.4 548.3L460.4 544.1L461.4 543.9L462.4 545.4L463.4 546.3L464.4 550.4L465.4 548.4L466.4 547.1L467.4 547.2L468.4 547L469.4 547.2L470.4 549.5L471.4 551.7L472.4 550.3L473.4 552.5L474.4 549.7L475.4 549.9L476.4 549.1L477.4 550.9L478.4 553.3L479.4 555L480.4 550.8L481.4 549.7L482.4 549L483.4 546L484.4 547.8L485.4 547L486.4 544.3L487.4 545.5L488.4 543.7L489.4 549.3L490.4 548.5L491.4 549.8L492.4 550L493.4 553.1L494.4 551.2L495.4 550.7L496.4 550.8L497.4 552L498.4 554.9L499.4 551.1L500.4 552L501.4 545.6L502.4 549.3L503.4 550.1L504.4 548.6L505.4 551.4L506.4 547.3L507.4 546.8L508.4 550.1L509.4 546L510.4 548.4L511.4 544.7L512.4 548.4L513.4 542.2L514.4 544.8L515.4 546.2L516.4 544.8L517.4 547.9L518.4 547.6L519.4 544.7L520.4 544.4L521.4 542.2L522.4 545.9L523.4 546.7L524.4 546.5L525.4 547.5L526.4 540.5L527.4 543.7L528.4 548L529.4 546.5L530.4 548.4L531.4 549.9L532.4 551.3L533.4 545.8L534.4 542.1L535.4 542.8L536.4 546.9L537.4 545.3L538.4 544L539.4 539.3L540.4 540.2L541.4 540.3L542.4 546.6L543.4 549.2L544.4 548.9L545.4 547.6L546.4 551.3L547.4 547.2L548.4 546.4L549.4 547.3L550.4 545.3L551.4 544.6L552.4 550.7L553.4 547.6L554.4 546.4L555.4 544.5L556.4 547.9L557.4 545.7L558.4 545.2L559.4 548.8L560.4 546.5L561.4 547.4L562.4 547.7L563.4 551.7L564.4 554.3L565.4 553.2L566.4 549.4L567.4 544.8L568.4 542.1L569.4 539.5L570.4 540.4L571.4 543.9L572.4 547.7L573.4 551.6L574.4 554.7L575.4 550.6L576.4 552L577.4 548.5L578.4 542.6L579.4 547.1L580.4 544.2L581.4 543.9L582.4 546.7L583.4 544.3L584.4 541.6L585.4 542.1L586.4 543.8L587.4 537.7L588.4 538.8L589.4 542.1L590.4 539.6L591.4 541.5L592.4 542.7L593.4 544.8L594.4 546.8L595.4 550.4L596.4 549L597.4 549.5L598.4 549.8L599.4 552.8L600.4 548.2L601.4 549.6L602.4 547.8L603.4 551.1L604.4 551.2L605.4 553.3L606.4 555.2L607.4 552.6L608.4 549.2L609.4 550.3L610.4 544.8L611.4 545.5L612.4 544.6L613.4 545.8L614.4 544.1L615.4 545.3L616.4 547.3L617.4 550.4L618.4 546.3L619.4 544.6L620.4 544.7L621.4 547.2L622.4 548.5L623.4 553L624.4 552.5L625.4 554.8L626.4 553.6L627.4 553L628.4 547.4L629.4 546.9L630.4 547.8L631.4 545.3L632.4 549.1L633.4 545.7L634.4 547L635.4 549.9L636.4 547.8L637.4 550.3L638.4 548.2L639.4 548L640.4 547.1L641.4 544.4L642.4 548.3L643.4 549.4L644.4 552L645.4 551.2L646.4 550.7L647.4 546.3L648.4 546.2L649.4 544.6L650.4 546.5L651.4 549.4L652.4 549.4L653.4 550.8L654.4 549.2L655.4 551.6L656.4 552L657.4 551.2L658.4 548.1L659.4 547.5L660.4 550.5L661.4 549.4L662.4 549.2L663.4 542.9L664.4 546.9L665.4 545.9L666.4 546L667.4 549.2L668.4 549.7L669.4 546.1L670.4 550L671.4 545.8L672.4 547.7L673.4 547.1L674.4 549.8L675.4 549.3L676.4 550.2L677.4 552.2L678.4 553L679.4 552.6L680.4 551.4L681.4 554.4L682.4 552.6L683.4 550.9L684.4 548.6L685.4 549.8L686.4 551.6L687.4 548.4L688.4 549L689.4 544.3L690.4 545.2L690.6 559.6Z"/></defs>
<use href="#ap3" fill="#000"/>
<g clip-path="url(#bc3)"><use href="#ap3" fill="#19295a"/></g>
<rect x="35.4" y="577.3" width="655.2" height="16.5" fill="#b1c3f1"/>
<clipPath id="bc4"><rect x="35.4" y="577.3" width="655.2" height="17.5"/></clipPath>
<defs><path id="ap4" d="M35.4 593.8L35.4 589.7L36.4 591L37.4 587.8L38.4 585.8L39.4 580.9L40.4 579.2L41.4 577.3L42.4 584.3L43.4 584.2L44.4 587.7L45.4 584.5L46.4 580.4L47.4 581.4L48.4 578.3L49.4 577L50.4 579.9L51.4 584L52.4 580.9L53.4 577.9L54.4 581.9L55.4 574.5L56.4 576.5L57.4 581.3L58.4 584.5L59.4 581.9L60.4 583.1L61.4 582.6L62.4 580.6L63.4 574.1L64.4 577L65.4 576.6L66.4 576.6L67.4 576.6L68.4 572.7L69.4 578.4L70.4 578.4L71.4 576.4L72.4 577.2L73.4 574.8L74.4 577.7L75.4 577.9L76.4 583.4L77.4 583.5L78.4 584.5L79.4 587L80.4 586.5L81.4 586.4L82.4 584.7L83.4 582.2L84.4 585L85.4 586.2L86.4 588.2L87.4 588L88.4 584.1L89.4 584.7L90.4 584.1L91.4 585.5L92.4 581.4L93.4 584L94.4 583.4L95.4 580.7L96.4 583.4L97.4 584.1L98.4 583.2L99.4 582.1L100.4 582.3L101.4 584.9L102.4 585.7L103.4 583.7L104.4 583.6L105.4 583.9L106.4 581.3L107.4 583.4L108.4 587.6L109.4 585.9L110.4 585.9L111.4 581.9L112.4 583.1L113.4 584L114.4 583.9L115.4 581.9L116.4 583.5L117.4 581.8L118.4 581.3L119.4 585.3L120.4 587.4L121.4 583.8L122.4 585.6L123.4 587.2L124.4 586.9L125.4 588.1L126.4 587.3L127.4 587.6L128.4 587.1L129.4 587L130.4 583.4L131.4 578.4L132.4 580.5L133.4 576.8L134.4 576.7L135.4 582.4L136.4 578.1L137.4 579.5L138.4 586.1L139.4 591.3L140.4 591L141.4 593.5L142.4 592.5L143.4 591.7L144.4 589.2L145.4 588.6L146.4 590.1L147.4 588.9L148.4 590L149.4 586.8L150.4 587.1L151.4 589.9L152.4 589.2L153.4 589.9L154.4 592L155.4 589.4L156.4 589.1L157.4 587.1L158.4 587.2L159.4 589.1L160.4 586.9L161.4 587.3L162.4 581.2L163.4 580.1L164.4 578.3L165.4 579.8L166.4 579.6L167.4 577.8L168.4 581.8L169.4 589.1L170.4 586.5L171.4 587.8L172.4 583.5L173.4 583.8L174.4 587.9L175.4 587.3L176.4 588L177.4 590.1L178.4 584.5L179.4 583.7L180.4 582L181.4 575.4L182.4 569.5L183.4 573L184.4 575.6L185.4 573.9L186.4 578.6L187.4 582L188.4 583.6L189.4 586.5L190.4 586.7L191.4 586.8L192.4 585.9L193.4 587.1L194.4 586.7L195.4 587L196.4 583.1L197.4 584.1L198.4 578.7L199.4 579.4L200.4 586L201.4 587L202.4 586.9L203.4 590L204.4 591.5L205.4 589L206.4 589L207.4 588.1L208.4 585.5L209.4 584.7L210.4 587.3L211.4 587.4L212.4 585.3L213.4 585.1L214.4 585.7L215.4 585.2L216.4 586.3L217.4 583.7L218.4 586L219.4 582.2L220.4 580.4L221.4 577.6L222.4 582.6L223.4 583.8L224.4 583.1L225.4 583.7L226.4 584.8L227.4 585.4L228.4 582.2L229.4 585.3L230.4 584L231.4 586.4L232.4 589.3L233.4 579.7L234.4 575.7L235.4 572.5L236.4 572.1L237.4 575.5L238.4 582.8L239.4 582.9L240.4 586.4L241.4 586L242.4 587.7L243.4 586.1L244.4 583.1L245.4 586.7L246.4 584.1L247.4 585.6L248.4 585.5L249.4 582.6L250.4 582.2L251.4 584.3L252.4 583.7L253.4 586.9L254.4 586.5L255.4 583.6L256.4 585.9L257.4 585.9L258.4 582.8L259.4 584.8L260.4 580L261.4 579.5L262.4 576.1L263.4 581.8L264.4 578.2L265.4 585.2L266.4 585.8L267.4 585L268.4 585.2L269.4 584.8L270.4 583.1L271.4 575.7L272.4 578.8L273.4 575L274.4 576.5L275.4 579.7L276.4 580.4L277.4 580.6L278.4 577.8L279.4 582.3L280.4 578.8L281.4 582.1L282.4 581.8L283.4 580.8L284.4 583.7L285.4 583.2L286.4 579.5L287.4 582.9L288.4 582.8L289.4 582.4L290.4 583.5L291.4 586.9L292.4 585.1L293.4 583.7L294.4 578.9L295.4 578.7L296.4 578.1L297.4 581.1L298.4 583.5L299.4 580.7L300.4 582.7L301.4 583.6L302.4 580.4L303.4 581.3L304.4 584.3L305.4 578L306.4 580.3L307.4 576.5L308.4 574.4L309.4 581.7L310.4 583.3L311.4 585L312.4 585.1L313.4 589L314.4 585.2L315.4 581.4L316.4 581.7L317.4 578.2L318.4 580.7L319.4 579.2L320.4 576.5L321.4 578.8L322.4 585.1L323.4 584.9L324.4 586.1L325.4 586.4L326.4 580.6L327.4 580L328.4 583.1L329.4 581.6L330.4 584.1L331.4 585.9L332.4 587.8L333.4 587.2L334.4 582.9L335.4 582.5L336.4 584.3L337.4 582.8L338.4 584.1L339.4 586.4L340.4 586.5L341.4 586L342.4 583.4L343.4 584.4L344.4 584.6L345.4 584.4L346.4 587.1L347.4 586.4L348.4 586.6L349.4 582.3L350.4 582.3L351.4 585.6L352.4 585.3L353.4 588.3L354.4 586.6L355.4 588.7L356.4 588.8L357.4 588L358.4 586.3L359.4 589.9L360.4 587.7L361.4 590L362.4 588.6L363.4 588.3L364.4 587.2L365.4 586.6L366.4 588.2L367.4 585.2L368.4 587.8L369.4 583.4L370.4 584L371.4 588.2L372.4 586.7L373.4 589.3L374.4 590.6L375.4 589.7L376.4 592.3L377.4 593.1L378.4 591.4L379.4 589.8L380.4 586.3L381.4 586L382.4 589.8L383.4 589.5L384.4 591.3L385.4 589.1L386.4 590.4L387.4 588.8L388.4 591.2L389.4 586.4L390.4 588.4L391.4 583.3L392.4 585.4L393.4 586.7L394.4 586.2L395.4 586.2L396.4 589.2L397.4 588.7L398.4 589.8L399.4 591L400.4 590.9L401.4 592.3L402.4 591.2L403.4 593.5L404.4 590.2L405.4 590.3L406.4 588.5L407.4 587.3L408.4 587.3L409.4 588.4L410.4 589.4L411.4 586.4L412.4 587.3L413.4 586.8L414.4 583.5L415.4 584.4L416.4 587.1L417.4 587.7L418.4 587.8L419.4 588.4L420.4 589.5L421.4 590.8L422.4 590.4L423.4 589.3L424.4 590.1L425.4 588.9L426.4 589.5L427.4 590.3L428.4 588.9L429.4 590.4L430.4 588.6L431.4 587.2L432.4 586.7L433.4 587.4L434.4 589.1L435.4 590.2L436.4 591.8L437.4 591.9L438.4 591.5L439.4 592.7L440.4 593.5L441.4 593.5L442.4 593.4L443.4 592.7L444.4 592.7L445.4 590.2L446.4 590L447.4 590L448.4 591.3L449.4 591.1L450.4 591.6L451.4 591.2L452.4 590.8L453.4 589.9L454.4 592.8L455.4 591.7L456.4 590.7L457.4 591.8L458.4 589.8L459.4 590.2L460.4 590.2L461.4 587.5L462.4 589.7L463.4 587.6L464.4 588.6L465.4 591.6L466.4 590.4L467.4 591.3L468.4 588.5L469.4 590.1L470.4 592.1L471.4 591.8L472.4 590.2L473.4 591.9L474.4 591.1L475.4 591.7L476.4 590.9L477.4 592.1L478.4 591.3L479.4 591.6L480.4 592.5L481.4 591.7L482.4 591.8L483.4 590.3L484.4 590.6L485.4 588.9L486.4 588.9L487.4 589.5L488.4 590.6L489.4 591.4L490.4 590.9L491.4 591.4L492.4 592.3L493.4 592.1L494.4 593.2L495.4 593.5L496.4 593.4L497.4 593.5L498.4 593.5L499.4 593L500.4 593.5L501.4 593.5L502.4 593L503.4 592.8L504.4 593.5L505.4 593.3L506.4 592.8L507.4 592.8L508.4 592.7L509.4 591.4L510.4 589L511.4 589.7L512.4 589.1L513.4 588.3L514.4 588.4L515.4 589.7L516.4 591.4L517.4 590.5L518.4 589.5L519.4 589.6L520.4 589.3L521.4 590.7L522.4 589.1L523.4 589.4L524.4 588.7L525.4 589.8L526.4 590.6L527.4 590.7L528.4 592.9L529.4 592.5L530.4 591.6L531.4 592.5L532.4 593.3L533.4 591.9L534.4 592.1L535.4 589.5L536.4 591.6L537.4 590.2L538.4 589.6L539.4 591.6L540.4 589.3L541.4 591.4L542.4 590.9L543.4 592.9L544.4 592.5L545.4 593.2L546.4 593L547.4 591.9L548.4 593.1L549.4 592.2L550.4 592L551.4 593.4L552.4 593.5L553.4 593.5L554.4 591.9L555.4 590.3L556.4 592.2L557.4 591.2L558.4 590.7L559.4 591.1L560.4 590.8L561.4 590.5L562.4 593.1L563.4 593.5L564.4 593.5L565.4 593.5L566.4 592.1L567.4 591.9L568.4 592.4L569.4 590.4L570.4 589.6L571.4 592L572.4 590.9L573.4 590.9L574.4 593.2L575.4 591.5L576.4 590.5L577.4 592.4L578.4 592.1L579.4 590.4L580.4 588.4L581.4 587.8L582.4 590.3L583.4 589.6L584.4 592.2L585.4 590.4L586.4 590.6L587.4 592.3L588.4 590.1L589.4 589.8L590.4 590.7L591.4 592.5L592.4 589.9L593.4 590.7L594.4 592.2L595.4 592.1L596.4 592.6L597.4 592.4L598.4 593.2L599.4 592L600.4 592.2L601.4 593.5L602.4 591.6L603.4 592.4L604.4 591.7L605.4 592L606.4 592.6L607.4 591.6L608.4 590.8L609.4 592.8L610.4 591L611.4 591.7L612.4 591.5L613.4 591.4L614.4 590L615.4 591.3L616.4 589.5L617.4 589.8L618.4 592.4L619.4 590L620.4 592.3L621.4 591.5L622.4 591L623.4 591.7L624.4 592.7L625.4 589.9L626.4 592.1L627.4 592.3L628.4 591.1L629.4 593.1L630.4 592.2L631.4 592.8L632.4 593.5L633.4 593.5L634.4 591.4L635.4 593.5L636.4 591.5L637.4 592L638.4 591.1L639.4 591.6L640.4 591.9L641.4 592.6L642.4 592L643.4 593.5L644.4 593.5L645.4 592.5L646.4 593.4L647.4 592.6L648.4 592.7L649.4 592.5L650.4 592.7L651.4 591.8L652.4 593L653.4 591.9L654.4 593.1L655.4 593.2L656.4 593.5L657.4 593.2L658.4 593.3L659.4 592L660.4 591.2L661.4 592.8L662.4 592.6L663.4 591.7L664.4 590.9L665.4 590.1L666.4 591.4L667.4 592.1L668.4 592.6L669.4 592.3L670.4 592.1L671.4 592.2L672.4 592.6L673.4 591.1L674.4 592.1L675.4 590.2L676.4 591.7L677.4 591.6L678.4 593.5L679.4 591.4L680.4 592.3L681.4 591.1L682.4 591.9L683.4 592.1L684.4 592.1L685.4 592.6L686.4 592.4L687.4 588.8L688.4 589.8L689.4 587.1L690.4 586.8L690.6 593.8Z"/></defs>
<use href="#ap4" fill="#000"/>
<g clip-path="url(#bc4)"><use href="#ap4" fill="#19295a"/></g>
<path d="M35 594.5H691.2" stroke="#000" stroke-width="1.6"/>
<rect x="35.4" y="615.3" width="655.2" height="17" fill="#b198f2"/>
<path d="M35.4 631.5H690.6" stroke="#1c1348" stroke-width="0.9" fill="none" opacity="0.9"/>
<path d="M54.9 631.4v-0.5M61.9 631.4v-0.3M67.9 631.4v-0.3M70.9 631.4v-0.4M74.9 631.4v-0.3M78.9 631.4v-0.3M79.9 631.4v-0.3M80.9 631.4v-0.3M90.9 631.4v-0.4M93.9 631.4v-0.9M94.9 631.4v-0.4M102.9 631.4v-0.3M112.9 631.4v-0.4M115.9 631.4v-0.3M134.9 631.4v-0.3M140.9 631.4v-1M145.9 631.4v-1M149.9 631.4v-0.3M150.9 631.4v-0.7M153.9 631.4v-0.3M160.9 631.4v-0.3M164.9 631.4v-0.3M169.9 631.4v-0.3M170.9 631.4v-0.3M172.9 631.4v-0.8M177.9 631.4v-0.3M183.9 631.4v-0.4M188.9 631.4v-0.3M191.9 631.4v-1.1M196.9 631.4v-0.3M202.9 631.4v-0.5M218.9 631.4v-0.7M221.9 631.4v-0.3M227.9 631.4v-0.3M232.9 631.4v-0.9M265.9 631.4v-0.3M277.9 631.4v-0.7M279.9 631.4v-0.6M280.9 631.4v-0.4M288.9 631.4v-0.3M294.9 631.4v-0.4M299.9 631.4v-0.3M308.9 631.4v-0.4M323.9 631.4v-0.5M334.9 631.4v-0.5M366.9 631.4v-0.3M371.9 631.4v-0.3M379.9 631.4v-0.3M392.9 631.4v-0.4M398.9 631.4v-0.3M400.9 631.4v-1M402.9 631.4v-0.4M410.9 631.4v-0.4M424.9 631.4v-0.3M430.9 631.4v-0.7M434.9 631.4v-0.3M455.9 631.4v-0.3M460.9 631.4v-0.3M465.9 631.4v-0.4M472.9 631.4v-0.4M480.9 631.4v-1.2M483.9 631.4v-0.7M486.9 631.4v-0.4M495.9 631.4v-0.5M496.9 631.4v-0.9M502.9 631.4v-0.7M512.9 631.4v-0.4M523.9 631.4v-0.9M525.9 631.4v-0.3M536.9 631.4v-0.3M539.9 631.4v-0.3M550.9 631.4v-0.7M553.9 631.4v-0.7M558.9 631.4v-1M572.9 631.4v-0.5M590.9 631.4v-1.1M604.9 631.4v-0.3M605.9 631.4v-0.8M612.9 631.4v-0.9M614.9 631.4v-0.9M617.9 631.4v-0.4M630.9 631.4v-1.1M631.9 631.4v-0.6M643.9 631.4v-0.8M646.9 631.4v-0.6M659.9 631.4v-0.3M662.9 631.4v-0.7M667.9 631.4v-0.5M675.9 631.4v-0.9M680.9 631.4v-0.8M685.9 631.4v-0.3" stroke="#1c1348" stroke-width=".7" fill="none" opacity=".9"/>
<path d="M550.1 631.4L550.5 619L550.9 631.4ZM549.7 631.4L550.5 625.2L551.3 631.4ZM548.7 631.4L550.5 628.7L552.3 631.4ZM562.9 631.4L563.5 629.9L564.1 631.4ZM505.4 631.4L506 630.2L506.6 631.4Z" fill="#1c1348" stroke="#1c1348" stroke-width=".3"/>
<rect x="35.4" y="651" width="655.2" height="17" fill="#b198f2"/>
<path d="M35.4 667.5H690.6" stroke="#1c1348" stroke-width="1.0" fill="none" opacity="0.95"/>
<path d="M44.9 667.1v-0.4M45.9 667.1v-0.3M49.9 667.1v-0.3M59.9 667.1v-0.5M64.9 667.1v-0.9M69.9 667.1v-0.3M76.9 667.1v-0.7M80.9 667.1v-0.3M81.9 667.1v-0.3M82.9 667.1v-0.3M83.9 667.1v-0.5M85.9 667.1v-1.2M93.9 667.1v-0.7M105.9 667.1v-0.3M114.9 667.1v-1.2M119.9 667.1v-0.4M135.9 667.1v-0.4M141.9 667.1v-1M147.9 667.1v-0.3M167.9 667.1v-0.3M168.9 667.1v-0.4M169.9 667.1v-0.3M170.9 667.1v-1M178.9 667.1v-0.4M179.9 667.1v-0.4M183.9 667.1v-1.4M189.9 667.1v-0.4M190.9 667.1v-0.3M191.9 667.1v-0.7M193.9 667.1v-0.7M194.9 667.1v-1.2M195.9 667.1v-0.4M199.9 667.1v-1M207.9 667.1v-0.3M209.9 667.1v-0.4M211.9 667.1v-1.2M213.9 667.1v-0.9M215.9 667.1v-0.4M220.9 667.1v-0.3M221.9 667.1v-0.4M224.9 667.1v-0.3M228.9 667.1v-1.3M232.9 667.1v-0.5M234.9 667.1v-0.8M235.9 667.1v-0.7M238.9 667.1v-0.4M256.9 667.1v-0.3M260.9 667.1v-0.5M263.9 667.1v-0.8M266.9 667.1v-0.3M272.9 667.1v-0.3M278.9 667.1v-0.3M282.9 667.1v-0.5M283.9 667.1v-0.4M284.9 667.1v-0.3M294.9 667.1v-1.2M296.9 667.1v-0.3M302.9 667.1v-0.3M306.9 667.1v-1M310.9 667.1v-0.3M321.9 667.1v-0.8M325.9 667.1v-0.3M331.9 667.1v-0.5M334.9 667.1v-0.4M345.9 667.1v-1M358.9 667.1v-0.3M359.9 667.1v-1.2M361.9 667.1v-0.6M363.9 667.1v-0.4M364.9 667.1v-0.4M382.9 667.1v-0.5M384.9 667.1v-0.3M399.9 667.1v-0.3M402.9 667.1v-1.3M404.9 667.1v-0.4M406.9 667.1v-0.9M414.9 667.1v-0.7M417.9 667.1v-0.3M418.9 667.1v-0.3M426.9 667.1v-1M434.9 667.1v-0.6M436.9 667.1v-0.3M438.9 667.1v-0.3M445.9 667.1v-0.9M450.9 667.1v-0.3M453.9 667.1v-0.4M454.9 667.1v-0.3M457.9 667.1v-0.4M464.9 667.1v-0.5M473.9 667.1v-0.4M476.9 667.1v-0.3M482.9 667.1v-1.2M485.9 667.1v-0.9M486.9 667.1v-0.7M487.9 667.1v-1M490.9 667.1v-0.4M505.9 667.1v-0.6M508.9 667.1v-0.3M520.9 667.1v-0.3M528.9 667.1v-0.3M529.9 667.1v-0.3M537.9 667.1v-0.9M540.9 667.1v-0.7M547.9 667.1v-0.6M550.9 667.1v-1.2M554.9 667.1v-0.3M557.9 667.1v-0.4M559.9 667.1v-0.3M560.9 667.1v-0.4M564.9 667.1v-0.9M566.9 667.1v-0.6M569.9 667.1v-0.3M572.9 667.1v-1.1M574.9 667.1v-1.1M578.9 667.1v-0.4M579.9 667.1v-0.6M581.9 667.1v-0.8M586.9 667.1v-0.5M591.9 667.1v-0.3M592.9 667.1v-0.3M594.9 667.1v-0.5M599.9 667.1v-0.3M605.9 667.1v-0.9M611.9 667.1v-1M614.9 667.1v-0.6M617.9 667.1v-1.1M618.9 667.1v-0.5M621.9 667.1v-0.3M635.9 667.1v-1.1M637.9 667.1v-0.4M639.9 667.1v-0.3M641.9 667.1v-0.5M642.9 667.1v-0.3M646.9 667.1v-0.5M650.9 667.1v-0.4M651.9 667.1v-0.5M652.9 667.1v-0.5M658.9 667.1v-0.6M659.9 667.1v-0.3M663.9 667.1v-0.3M671.9 667.1v-0.9M672.9 667.1v-1.3M673.9 667.1v-0.3M684.9 667.1v-0.4M689.9 667.1v-0.8" stroke="#1c1348" stroke-width=".7" fill="none" opacity=".9"/>
<path d="M549.8 667.1L550.5 644.7L551.2 667.1ZM549.1 667.1L550.5 655.9L551.9 667.1ZM547.4 667.1L550.5 662.2L553.6 667.1ZM553.9 667.1L554.9 661.1L555.9 667.1ZM555.7 667.1L556.5 663.6L557.3 667.1ZM561.3 667.1L562.2 663.6L563.1 667.1ZM559.2 667.1L560 664.6L560.8 667.1ZM533 667.1L533.7 664.1L534.4 667.1ZM534.8 667.1L535.5 665.1L536.2 667.1ZM542.7 667.1L543.4 664.6L544.1 667.1ZM581.3 667.1L582 665.1L582.7 667.1ZM600.7 667.1L601.4 665.1L602.1 667.1ZM659.2 667.1L659.7 655.1L660.2 667.1ZM644 667.1L644.5 663.6L645 667.1ZM682.9 667.1L683.4 663.1L683.9 667.1ZM622 667.1L622.5 664.6L623 667.1ZM530.5 667.1L531.1 665.4L531.7 667.1ZM531.8 667.1L532.4 666L533 667.1ZM533.1 667.1L533.7 666.6L534.3 667.1ZM534.9 667.1L535.5 666.6L536.1 667.1ZM536 667.1L536.6 666.4L537.2 667.1ZM537.2 667.1L537.8 666.4L538.4 667.1ZM538.3 667.1L538.9 665.7L539.5 667.1ZM539.6 667.1L540.2 666.6L540.8 667.1ZM540.8 667.1L541.4 666.6L542 667.1ZM542.3 667.1L542.9 665.6L543.5 667.1ZM543.6 667.1L544.2 666.7L544.8 667.1ZM544.9 667.1L545.5 665.3L546.1 667.1ZM546 667.1L546.6 666.2L547.2 667.1ZM547.5 667.1L548.1 666.1L548.7 667.1ZM548.8 667.1L549.4 666L550 667.1ZM550.2 667.1L550.8 666.1L551.4 667.1ZM551.7 667.1L552.3 666.2L552.9 667.1ZM552.6 667.1L553.2 666.7L553.8 667.1ZM554.4 667.1L555 666.4L555.6 667.1ZM555.2 667.1L555.8 665.4L556.4 667.1ZM556.7 667.1L557.3 666L557.9 667.1ZM558.2 667.1L558.8 666.6L559.4 667.1ZM559.2 667.1L559.8 665.6L560.4 667.1ZM560.4 667.1L561 665.9L561.6 667.1ZM561.7 667.1L562.3 666L562.9 667.1ZM563.3 667.1L563.9 665.4L564.5 667.1ZM564.7 667.1L565.3 666.3L565.9 667.1Z" fill="#1c1348" stroke="#1c1348" stroke-width=".3"/>
<path d="M35 453.3V667.7" stroke="#1a1a1a" stroke-width="1.7" fill="none"/>
<path d="M30 453.8H35" stroke="#1a1a1a" stroke-width="1.4" fill="none"/>
<path d="M30 487.5H35M30 489.5H35" stroke="#111" stroke-width="1" fill="none"/>
<path d="M30 522.5H35M30 524.5H35" stroke="#111" stroke-width="1" fill="none"/>
<path d="M30 559.5H35M30 561.5H35" stroke="#111" stroke-width="1" fill="none"/>
<path d="M30 593.5H35M30 595.5H35" stroke="#111" stroke-width="1" fill="none"/>
<path d="M30 631.5H35M30 633.5H35" stroke="#111" stroke-width="1" fill="none"/>
<path d="M30 667.2H35" stroke="#1a1a1a" stroke-width="1.2" fill="none"/>
<path d="M691.2 452.3V668.6" stroke="#1a1a1a" stroke-width="1.6" fill="none"/>
<text transform="translate(28.4 472.8) scale(1.09 1)" font-size="10.1" text-anchor="end" fill="#1a1a1a">RPE1</text>
<text transform="translate(28.4 509.3) scale(1.15 1)" font-size="10.1" text-anchor="end" fill="#1a1a1a">S40</text>
<text transform="translate(28.4 545.6) scale(1.09 1)" font-size="10.1" text-anchor="end" fill="#1a1a1a">RPE1</text>
<text transform="translate(28.4 582) scale(1.15 1)" font-size="10.1" text-anchor="end" fill="#1a1a1a">S40</text>
<text transform="translate(28.4 618.4) scale(1.09 1)" font-size="10.1" text-anchor="end" fill="#1a1a1a">RPE1</text>
<text transform="translate(28.4 654) scale(1.15 1)" font-size="10.1" text-anchor="end" fill="#1a1a1a">S40</text>
<path d="M697.4 456V518.5" stroke="#1a1a1a" stroke-width="1.3" fill="none"/>
<text transform="translate(700.3 490.4) rotate(90)" font-size="11.6" text-anchor="middle" fill="#1a1a1a">H3K4me2</text>
<path d="M697.4 528.8V590.8" stroke="#1a1a1a" stroke-width="1.3" fill="none"/>
<text transform="translate(700.3 559.2) rotate(90)" font-size="11.6" text-anchor="middle" fill="#1a1a1a">H3K9me3</text>
<path d="M697.4 600.6V662.8" stroke="#1a1a1a" stroke-width="1.3" fill="none"/>
<text transform="translate(700.3 631.3) rotate(90)" font-size="11.6" text-anchor="middle" fill="#1a1a1a">H3K27Ac</text>
<rect x="589" y="450.1" width="3.2" height="1" fill="#c4c4c4"/>
<rect x="356" y="675.3" width="334" height="3" fill="#000"/>
</svg>
</body></html>
